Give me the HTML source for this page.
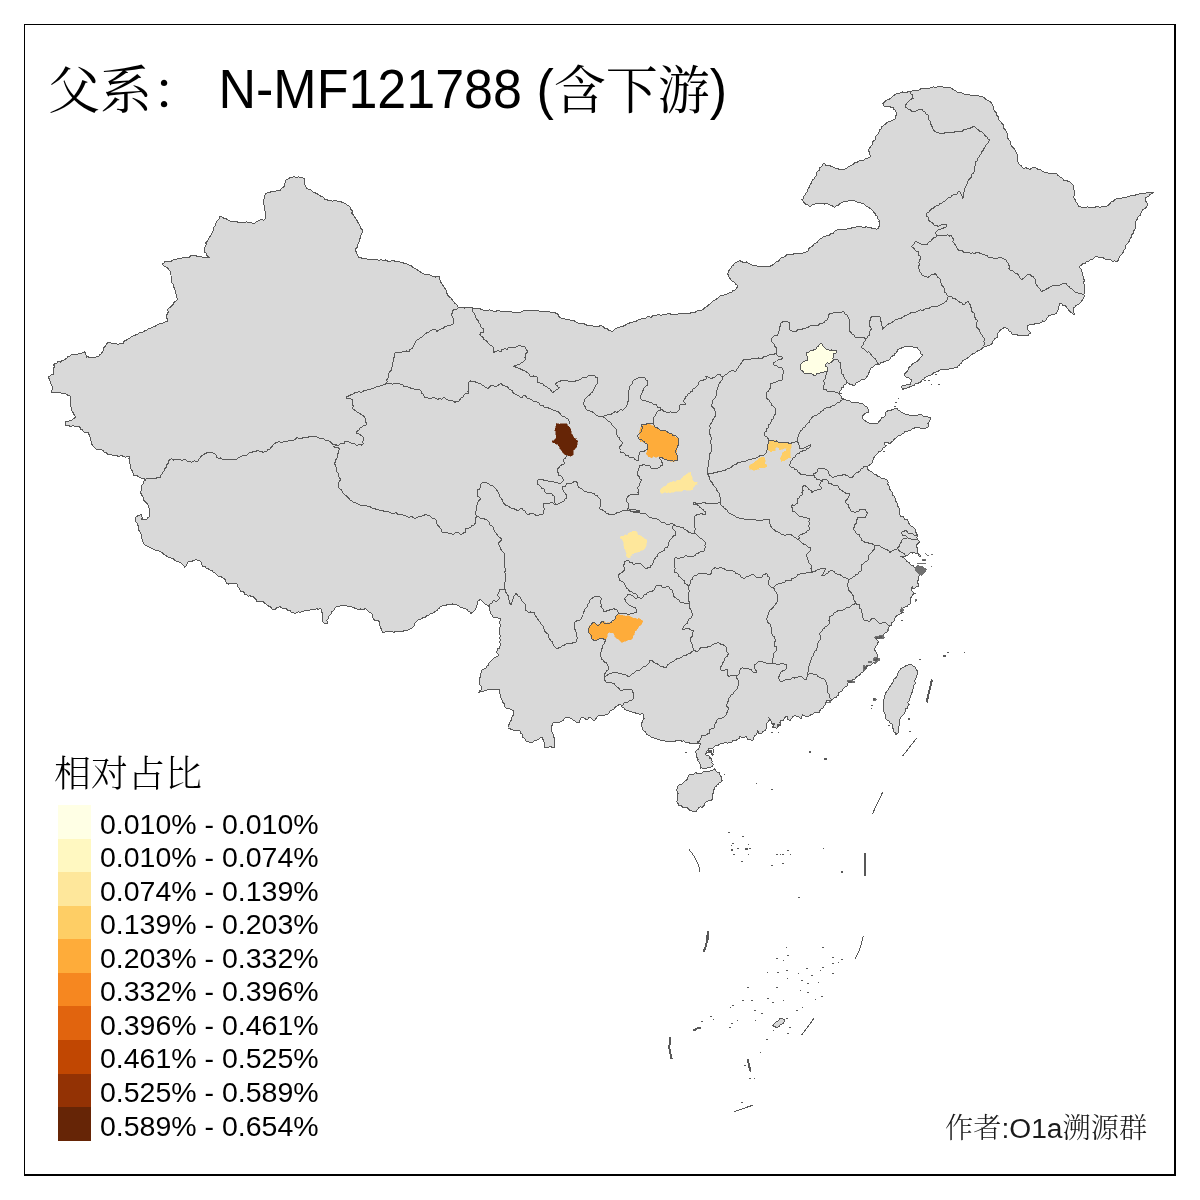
<!DOCTYPE html>
<html lang="zh"><head><meta charset="utf-8"><title>父系： N-MF121788 (含下游)</title>
<style>
html,body{margin:0;padding:0;background:#fff;}
body{width:1200px;height:1200px;position:relative;overflow:hidden;font-family:"Liberation Sans","Noto Serif CJK SC",sans-serif;color:#000;}
.frame{position:absolute;left:24px;top:24px;width:1152px;height:1152px;border-style:solid;border-color:#000;border-width:1px 2px 2px 1px;box-sizing:border-box;}
.title{position:absolute;left:48px;top:60px;font-size:52px;line-height:60px;white-space:pre;}
.title .lat{display:inline-block;transform:scaleY(1.05);transform-origin:0 47px;}
.title .cjk{font-weight:400;position:relative;top:1px;}
.cjk{font-family:"Liberation Serif","Noto Serif CJK SC",serif;font-weight:300;}
.legtitle{position:absolute;left:54px;top:751px;font-size:37px;line-height:48px;white-space:pre;}
.sw{position:absolute;left:58px;width:33px;height:33.7px;}
.lab{position:absolute;left:100px;font-size:28.5px;line-height:34px;white-space:pre;margin-top:1.5px;}
.credit{position:absolute;left:945px;top:1110px;font-size:28.2px;line-height:36px;white-space:pre;color:#1a1a1a;}
</style></head><body>
<svg width="1200" height="1200" viewBox="0 0 1200 1200" style="position:absolute;left:0;top:0">
<g fill="#d9d9d9" stroke="#585858" stroke-width="1" stroke-linejoin="round" shape-rendering="crispEdges">
<path d="M400,261.7 397.9,261.7 395.8,261.7 393.8,260.7 391.7,260.8 389.5,261.8 387.5,261 385.4,260 383.3,260.7 381.3,259.8 379.2,260.2 377.1,259.7 375,259.7 373,259 370.8,260 368.7,259.8 366.7,259 364.6,258.4 362.4,258.6 360.5,257.1 358.3,257.3 357.8,255.3 356.9,253.5 356.2,251.6 355,250 356.1,248.5 357.4,247 357.5,245 358.3,243.3 359.5,241.4 359.6,239.1 361,237.3 360.6,235.3 361.8,233.7 362.5,231.9 362.3,230 361,228.5 360.5,226.5 359.5,224.8 358.3,223.3 357.6,221.4 356.4,219.9 355.4,218.2 354.5,216.5 353.3,215 351.8,213.4 352.4,210.8 350.5,209.3 350,207.3 348.6,205.6 346.6,204.8 345,203.3 343,202.6 340.9,201.8 338.9,201.1 336.7,201 334.6,200.5 332.5,201.1 330.4,200.5 328.3,200.7 327,199.1 324.7,199.1 323.6,197.2 321.7,196.7 320.1,195.7 318.5,194.4 316.7,193.7 315,192.7 313.2,192.1 311.8,190.8 310.3,189.5 308.3,189.3 306.7,188.3 305.7,186.7 305.1,184.8 304,183.3 304.3,181.6 304.7,180 304,178.3 302.1,177.8 300.2,177.3 298.3,176.7 296.3,177.6 294.1,176.4 292.1,177.4 290,177.3 288.7,178.9 286.7,179.6 285,180.7 285,182.8 284.2,184.7 284,186.7 282.5,187.7 281.1,188.7 280.1,190.3 278.3,190.7 276.6,190.7 275,191.2 273.4,191.5 271.7,191.7 269.8,192.2 267.8,192.6 266,193.3 265,194.8 264.1,196.4 264.4,198.5 263.3,200 263.1,202.1 263.8,204.1 264.2,206.2 264,208.3 264.6,209.9 265.3,211.5 265.8,213.2 265.7,215 265.8,217.1 265,219 263.5,220.2 261.6,219.5 259.9,219.9 258.3,220.7 256.5,221.6 254.8,223 252.7,223.3 250.7,222.6 248.5,223 246.7,221.7 244.6,222.5 242.5,222.2 240.4,222.4 238.3,222.3 236.3,221.6 234.3,221 232.1,221.4 230,221 228,220 226.2,218.7 224,218.3 222.6,217.2 221.1,216.6 219.3,216.7 219.1,218.7 218,220.2 216.7,221.6 216,223.3 215.7,225.1 214.4,226.5 213.4,228.1 213.2,230 212.7,231.7 211.6,233.6 210.6,235.6 209.3,237.3 208.3,239.3 207.3,241.1 205.9,242.7 206.2,245 205,246.7 204.1,248.3 204.2,250 204.3,251.7 206,253.1 206.7,255.3 208.3,256.7 210,257.7 208.3,257.3 206.7,257.4 205,257.7 203.3,257.7 201.7,256.8 200,256.7 198.1,256.7 196.5,256 195,255 192.9,255.5 190.8,255.9 189,257.4 186.7,257.3 184.6,257.2 182.6,257.6 180.7,258.5 178.6,258.5 176.7,259.3 174.7,259.6 172.7,260.1 170.9,261.4 168.7,261.1 166.7,261.7 164.7,261.8 163.6,263.8 161.7,264 163.4,265.1 164.8,266.6 166.7,267.3 168.1,268.5 168.9,270.1 170.2,271.5 170.7,273.3 171,275.4 171.1,277.5 171.2,279.6 171.7,281.7 172.2,283.4 173.5,284.8 173,287 174.7,288.2 175,290 175.1,292.2 176.2,294.1 176.5,296.3 177.3,298.3 176.9,300.2 175.6,301.3 174,302.4 173.3,304 171.9,305.7 170.4,307.3 168.3,308.3 167.5,309.9 168.2,311.8 167.7,313.5 166.7,315 167,316.7 166.9,318.4 168.1,319.9 167.7,321.7 165.6,321.8 163.7,322.8 161.7,323.3 159.9,323.7 158.2,324.3 156.6,325.2 155.1,326.4 153.3,326.7 151.6,327.5 150.2,328.9 148.1,328.7 146.8,330.4 144.9,330.7 143.3,331.7 141.4,332.7 139.1,333 137.3,334.3 135.3,335.1 133.3,336 131.3,336.3 130.1,338.1 128.3,338.7 126.8,339.9 125,340.7 123.7,341.6 123.3,343.4 121.7,344 120.1,343.6 118.3,344.4 116.6,344 115,343.3 113.3,343.5 111.6,343.5 110,342.3 108.3,342.3 106.8,343.5 106,345.2 105,346.7 103.5,348 103.9,350.3 102.4,351.6 101.7,353.3 100.4,354.2 99.3,355.5 98.3,356.7 96.6,356.1 95.1,357.7 93.4,357.2 91.7,357.3 89.8,357.5 87.9,356.8 86,357.3 86,355.4 85.7,353.5 85,351.7 83.4,352.6 81.8,353.1 80,353.3 78.2,354 76.3,354 74.4,354 72.5,354.1 70.7,355 69.8,356.6 67.7,356.8 66.7,358.3 65.1,359.3 63.6,360.3 61.7,360.7 60.3,362.1 58.1,361.3 56.9,363.3 55,363.3 53.7,364.7 54.5,366.9 53.3,368.3 53.6,370.2 53.5,372.1 54,374 51.7,374.5 50,375.9 48.3,377.3 49.5,379.1 50,381.2 50.7,383.3 51.5,384.6 52,386 52.7,387.3 52.4,389.1 51.5,390.8 51.7,392.7 53.9,392.6 56.1,392.8 58.3,392.7 60,392.7 61.6,393.3 63.3,393.3 65,393.3 66.4,394.2 67.7,395.2 69.3,395.7 70.7,396.7 70.7,398.8 70.8,400.9 70.4,402.9 70.7,405 71,406.7 71,408.6 71.7,410.2 72.7,411.7 73.4,413.6 74.5,415.3 76,416.7 74.6,418.1 72.8,419 71.7,420.7 69.9,420.3 68.4,421.8 66.7,421.6 65,421.7 65.5,423.4 65,425 66.6,425.8 68.4,425.4 69.9,426.3 71.7,426 73.8,425.9 75.9,426.4 78,426.3 80,427.3 80.5,429.2 82.7,429.9 83.3,431.7 84.9,432.2 86.5,432.9 88.3,432.7 89.1,434.6 89.6,436.6 90.7,438.3 90.8,440.2 91.3,442.1 91.7,444 92.7,445.5 94,446.8 95,448.3 96.6,449.2 98.3,449 100,449 101.5,449.8 103.1,450.6 104,452.3 106.1,452.4 107.7,454.2 109.8,454.4 111.7,455 113.7,456 115.9,454.9 117.9,456.4 120,456 121.9,455.4 123.7,456.9 125.5,457.1 127.4,456.4 129.3,456.7 128.9,458.4 130.1,460 129.1,461.6 129.3,463.3 130.4,464.8 130.7,466.6 130.7,468.5 131.7,470 132.5,471.6 133.1,473.2 133.3,475 134.9,475.8 136.9,475.6 138.3,476.9 140,477.3 141.7,478.6 144.1,478.5 145.7,480 143.7,481.2 143.6,483.8 141.7,485 141.8,486.7 141.3,488.4 141.3,490.1 140.7,491.7 141,493.5 141.8,495.1 142.9,496.6 143.3,498.3 143.8,500.1 144.7,501.5 146.3,502.5 147.3,504 148.3,505.8 149,507.7 149,509.7 149.3,511.7 149.1,513.4 149.3,515.1 150,516.7 148.2,517.2 147.1,518.6 146,520 143.8,519.8 141.7,519.3 142.4,517.5 141.5,515.8 141.7,514 140.1,515 138.1,515.4 136.7,516.7 135.7,517.3 135,518.3 135.7,520 136,521.8 137,523.3 137.7,525 138.6,526.6 138.9,528.3 138.7,530.3 140,531.7 140.6,533.3 141.3,534.9 141.1,536.7 141.7,538.3 142.5,540 142.8,541.9 143.8,543.5 145,545 146.6,546 148.4,546.5 149.9,547.7 151.7,548.3 153.3,549 154.8,550 156.7,550 158.4,550.7 160,551.7 161.8,552.5 163.3,553.9 165,555 166.5,556.1 168.2,557 170,557.5 171.7,558.3 173.5,558.8 174.7,560.6 176.4,561.3 178.3,561.7 180.4,562.6 181.9,564.1 183.5,565.7 185,567.3 186.5,565.7 187.2,563.6 188.3,561.7 189.9,561 191.8,561.5 193.3,560.3 195,560 196.8,559.9 198.3,560.6 200,561 201.4,562.7 201.8,565 203.3,566.7 205.3,566.8 206.6,568.5 208.5,568.9 210,570 212.1,570.7 213.3,572.6 215.4,573.2 216.7,575 218.2,576.2 220.2,576.2 221.8,577.1 223.3,578.3 225.1,579.5 225.7,581.5 226.7,583.3 228.3,584.2 230.1,583.2 231.7,584 233.3,583.4 235,583.3 236.7,583.3 237.4,585 237.7,587 239.2,588.3 240,590 241.2,591.9 243.8,592 244.7,594.2 246.7,595 248.2,596.2 250.1,595.6 251.5,597 253.3,596.7 254.7,598.2 256.1,599.7 256.7,601.7 258.4,602 260,601.5 261.6,601.7 263.3,601.7 264.7,603.3 266.5,604.4 268.1,605.8 270,606.7 271.4,607.5 272,609.1 273.3,610 275.3,609.8 276.4,607.9 278.2,607.3 280,606.7 281.6,607.6 283.1,608.5 285.3,608.1 286.7,609.3 288.1,610.7 290.2,610.7 291.3,612.5 293.3,612.7 295,613.2 296.7,612.7 298.3,611.8 300,612.3 302,611.4 304,610.9 306.1,610.6 308.3,610.7 309.9,609.9 311.6,609.5 313.2,609.2 315,609.3 316.6,608.8 318.4,609.2 320,608.3 321.5,609.6 321.4,611.8 322.7,613.3 322.2,615.4 322.7,617.5 322.1,619.6 322.7,621.7 323.8,622.9 325.2,623.6 326.7,624 327.6,622.3 326.8,620.2 328.2,618.6 328.3,616.7 329.9,615.4 331.1,613.8 331.7,611.7 333.4,610.9 334.4,609.4 335.1,607.6 336.7,606.7 338.6,606.7 340.2,605.9 341.7,605 343.4,605.1 345.2,605.2 346.7,606 348.3,606.7 350.1,606.4 351.8,606.9 353.5,607.3 355,608.3 356.7,608.6 358.2,609.8 360.2,608.8 361.7,610 363.4,609.9 364.9,608.8 366.7,609.3 368,611.1 369.7,612.4 371.7,613.3 372.5,615.2 372.8,617.3 373.3,619.3 375.2,620.4 377.6,620.2 379.3,621.7 380,623.3 379.6,625.1 380.3,626.7 380.7,628.3 381.7,629.5 381.9,631 382.7,632.3 384.6,632.5 386.3,631.2 388.1,631.2 390,631.7 392,631.3 394,632.4 396,631.1 398,631.6 400,631.7 402.2,631.8 404.1,630.7 406.3,630.7 408.3,630 410,629 411.7,628 413.3,626.7 414.7,625.2 415,623 416.7,621.7 418,620.1 420.1,619.6 421.7,618.5 423.3,617.3 425.3,617.1 426.7,615.7 428.6,615.4 430,614 431.9,613.5 433.6,612.9 434.9,611.3 436.7,610.7 437.8,609.4 439.2,608.3 440,606.7 441.7,606 443.4,605.7 445.2,605.6 446.8,604.9 448.3,604 450.4,604.5 452.6,604 454.6,604.5 456.7,605 458.5,605.5 459.9,606.8 461.6,607.6 463.3,608.3 465.1,608.8 466.9,609.5 468.1,611.3 470,611.7 470.5,612.9 470,614 471.8,612.8 473.4,611.4 475,610 475.6,608.3 476.7,606.7 477,604.9 477,603 477.4,601.2 479.5,600.7 480,599 481.6,600.4 483,602 484.1,603.3 485.4,604.4 487,605 488.8,606.2 490,608 489.6,610.1 490.8,612 491,614 492.3,615.3 493,617 494.6,617.5 496.5,617.1 498,618 500,618.4 500.6,620.3 499.4,622.1 500,624 500.3,626 499.5,628 499.5,630 500,632 499.6,634 500.6,636 499.7,638 500.4,640 499.8,642 500.4,644 500,646 499.7,648.1 497.4,649 497,651 496.6,652.8 498.3,654.2 498,656 496.3,657 494.6,657.8 493,659 491.6,660.3 490.5,661.8 489,663 488.7,665.1 486.8,666.2 486,668 484.7,668.7 483.4,669.5 482,670 481.3,671.9 480.9,673.9 481,676 480.5,677.4 479.1,678.4 479,680 479.2,681.7 479.8,683.3 480,685 481.1,686.1 481.6,687.5 482,689 480.9,690.1 479.6,690.9 479,692.4 480.9,691.4 483,691.6 484.7,690.8 486.5,690.5 488.1,689.6 490,689.6 491.8,689.5 493.6,689.9 495.4,689.1 497.2,689.2 499,689 499.7,690.6 499.2,692.4 500,694 500.3,696.1 501.1,698.1 502,700 502.4,701.9 503.9,703.3 504.6,705.1 505,707 506.5,708.2 508.3,708.5 510,709 511.6,709.7 513,710.5 514,712 513.6,713.8 513.1,715.5 512,717 511.9,718.9 511.1,720.5 510,722 509.4,724 508.1,725.8 508,728 509.7,728.5 511.3,729.4 513,730 514.8,730.1 516.5,730.3 518.3,730.3 520,731 520,732.9 522.1,734 522,736 523.3,737.7 525.2,738.9 526,741 527.7,741.6 529.4,742.1 531,743 532.7,742.7 533.8,741.1 535.2,740.1 537,740 538.7,739.1 540.2,737.7 542,737 542.4,738.8 543.6,740.2 544,742 545,743.9 544.1,746.1 545,748 547,747.6 549,747 551.1,746.9 553,747.4 555,748 554.6,746 554.7,744 554.8,741.9 554,740 554.2,737.9 553,736.1 553,734 552.2,732 551.2,730.1 551,728 551.3,726.2 552.6,724.8 553,723 554.7,722.3 556.5,722.5 558.3,722.7 560,722 562.1,721.2 563.7,719.8 565,718 566.4,717.1 568,717 569.2,717.8 570.6,718.5 572,719 573.3,720.3 575,721 576.4,722.2 578,723 579.5,721.9 580.1,720.1 580.6,718.2 582,717 583.4,717.9 585,718.6 586,720 587.9,718.9 589,717 591,718 592.4,719.6 594,721 595.7,719.7 596.3,717.4 598,716 599.7,715.7 601.3,715.1 603,715 604.7,715 606.4,714.9 608,714 609.5,712.8 610.2,710.8 612,710 613.9,708.9 615.2,707.2 617,706 618.4,705.4 619,704 620.9,705.1 622,707 623.7,707.4 624.5,709.2 626,710 628,710.6 629.9,711.6 632,712 634,712.3 635.9,713.2 638,713 639.8,714.4 642.2,713.6 644,715 643.2,716.6 644.1,718.5 643,720 642.8,721.9 641,723.1 641,725 641.7,726.5 642.3,728.1 642.9,729.7 644,731 645.6,732 646.3,734 648,735 649.5,735.8 650.8,736.8 652.3,737.7 654,738 656.1,738.5 657.9,739.7 660,740 661.9,740.8 664.2,740.4 666,741.6 668,741.3 670,741 672,741.6 674.1,741.7 676,740.8 678.1,740.8 680,740 681.6,741.1 683.7,740.9 685.3,742.1 687,743 688.8,742.8 690.5,743.3 692.2,743.8 694,743.6 695.7,743.6 697.3,744 699,743.6 700.4,743.8 700.1,745.1 699,745.8 699,747.7 698.2,749.4 696.4,750.6 695.6,752.1 696.5,753.8 696,755.4 696.4,756.8 697.4,757.8 698.1,759.3 697.4,760.8 698.8,761.2 699.4,762.6 699.9,763.9 700.4,765.2 700.3,766.7 700.4,768.2 702,767.9 703.4,768.6 705,769 706.4,768.2 708.2,767.4 710.2,767.2 711.5,766.9 712.4,766 713.2,764.8 713,763.5 711.8,763 712.1,761.7 711.8,760.4 711.3,758.9 709.8,758.4 710.1,757.1 709.2,756.2 707.2,755.4 705.4,754.8 705.7,753.6 706.2,752.4 706.7,751.1 708,750.6 708.7,749.7 709.4,748.8 710.9,748.3 712.4,748.4 713.8,747 715.4,745.8 716,746 718,745.2 719.9,744.3 721.7,743.1 724,743 726,742.8 728,743.1 730,742.4 731.6,742.2 732.6,741 734,740.4 735.9,740.6 737.4,739.4 739.1,738.3 739.4,736.4 741.3,737 743,738 744.6,737.8 745.4,736.4 746.9,737.3 747.4,739 748.7,739.2 750,739.4 751.3,740 752.4,741 753.4,739.1 754,737 754.9,735.7 756.4,735 756.7,733.3 757.6,731.8 757.4,730 758.6,731.8 759,734 760.5,733.4 762,733 763.2,731.3 765,730.4 765.8,729.2 767,728.4 766.5,726.7 766.4,725 766.7,723.2 768,722 768.6,720.9 769.4,720 769.4,718.5 768.4,717.4 769.7,718.5 770.4,720 771.4,721.3 771.4,723 773,724.4 773.2,726.4 772,728 773.5,727.8 775,727.4 776.1,728 777.4,728 777.8,726.7 779,726 780.3,725.3 781,724 780.4,723 780,722 781.1,720.5 783,720 784.3,718.6 785.4,717 787.4,716.4 787.8,718.2 787.4,720 788.8,719.8 790,720.4 790.8,719.2 792,718.4 793,716.4 795,715.4 796.4,716.2 798,716.4 799.5,717.7 801.4,718.4 801.6,716.6 802.4,715 804.4,715.7 806,717 807.6,716.7 809,716 810.5,714.9 812.4,715 813.5,713.2 815.4,712.4 817.4,712.7 819.4,713 819.2,711.3 820.4,710 821.5,708.4 823.4,708 823.9,706.4 825,705 825.9,703.9 826,702.4 826.8,700.9 828.4,700.4 830.3,700.8 832,700 833,699 834.1,697.7 836,697.5 837,696 838.6,695.1 838.4,692.9 840,692 842,691 843,689 844.1,687.6 845.6,686.9 847,686 847.6,684.5 848,683 849.6,682.1 851,681 852.1,679.9 853.5,679.3 855,679 856.2,677.2 858,676 859.8,674.8 861,673 863.1,672.1 864,670 865.3,668.7 866,667 867.6,666.2 869.1,665.2 871,665 872.7,663.7 874,662 875.9,662 877.6,661.2 879,660 878,658.5 877,657 877.4,655.2 876.8,653.6 876,652 874.8,650.2 875,648 875.8,646.3 877,645 877.4,643.1 879,642 877.7,640.7 876.5,639.1 875,638 876.5,639.1 878.5,638 880,639 881,637.5 882,636 883.6,634.6 885,633 887,632 888,630 888.1,628.4 889,627.2 890,626 891.6,625.1 891.4,622.9 893,622 894,620.9 894,619.2 895,618 896.3,616.3 898,615 899.3,614.3 900.8,613.9 902,613 900.8,611.2 901,609 902.7,609 903.4,607.2 905,607 906.9,606.6 908,605 909.8,604.5 911,603 910.1,601.5 910.9,599.6 910,598 911.7,597.1 912.2,594.8 914,594 913.4,592.3 912,591 911.5,589 911,587 912.8,588.2 915,588 916,586.7 917.8,586.8 919,586 918.5,584.6 917.9,583.2 917,582 918.1,580.5 918.3,578.8 918,577 919,575.8 919.8,574.5 920,573 919.5,571.6 918.3,570.5 918,569 916.4,568.8 915.6,567.1 914,567 913,565.6 911.2,565.1 910,564 909,562.3 907.1,561.5 906,560 904.6,558.3 902.6,557.4 900.6,556.6 902.6,556.1 904.7,556.4 906.6,555.4 908.4,555 909.2,553.3 910.6,552.4 912.2,553.2 914.1,552.3 915.7,553.4 917.4,553.4 919.5,554.3 920.6,556.4 919.3,556.4 918.6,555.4 918.4,553.8 917.4,552.6 917.4,551.1 917.1,549.5 917.4,548 916.2,546.5 916,544.6 917.4,544.7 918,543.4 919,542.7 920,542 918.7,540.3 917,539 916.8,537.3 917,535.7 917,534 915.9,532.5 915.4,530.8 915,529 913.7,528 912.5,526.8 911,526 909.3,524.7 908.8,522.8 908,521 907.1,519.4 905,519.4 904,518 903,516.6 900.9,516.6 900,515 899.8,513.3 899.8,511.6 899,510 899,507.9 897.6,506.1 898,504 896.8,502.7 895.8,501.4 895.7,499.5 895,498 894.7,496.3 892.9,495.3 892.9,493.4 892,492 890.7,490.8 889.9,489.3 889.4,487.7 889,486 887.8,484.2 888.1,481.9 887,480 885.3,479.1 883.7,478.1 881.5,478.3 880,477 878.3,476.6 876.9,475.6 875.8,474.2 874,474 872.8,472.8 871.5,471.8 870,471 868.6,470.2 867.6,469 867.7,467.5 868,466 869.5,465 871,464 872.1,462.9 872.9,461.6 873,460 873.2,458.4 874.3,457.3 875,456 876.5,454.5 878,453 879,451.5 880.7,451.1 882,450 883,448 885,447 885,444.9 884,443 885.3,442 887,442 888.2,442.8 889,444 890.4,443.1 891.6,441.9 893,441 894.2,439.2 896,438 897.6,436.6 899,435 901,435.1 902.2,433.4 904,433 905,431.6 906.3,431 908,431 909.6,430.9 910.8,429.9 912,429 913.8,428.7 915.1,427.1 917,427 918.4,427.7 920,428 922.1,428.2 924,429 925.6,428.8 926.5,427.3 928,427 928.6,425.4 928,423.5 929,422 929.8,420.6 930.2,419.2 930.4,417.6 928.3,417 926.2,416.9 924,417 922.7,415.5 921,414.6 919,414.4 917.2,415.8 915,416 913,415.7 911.1,415 909,415 906.9,414.8 905,414 903.4,413 901.4,412.4 900,411 898.2,410.3 897,408.5 895,408 894,409.3 892,409 891,410.4 889.2,410.4 887.5,410.9 886,412 885.1,413.9 885,416 883.9,417.4 881.9,417.4 881,419 880.2,420.5 878.9,421.6 878,423 876.4,423.4 874.7,423.6 873,423.6 871.3,423.5 869.5,423.3 868,422.4 866.3,421.9 865.1,420.4 863.6,419.6 862.4,418 862.6,416 863.7,414.7 865,413.6 866.9,412.5 869,412 868.7,410.4 868,409 866.9,407.1 865,406 863.8,404.9 862.5,403.7 861,403 859,403.1 857,402.4 855,403 853.3,402.5 851.4,402.5 849.9,400.9 848,401 846.4,400.1 844.9,399.1 843,399 841.6,398 841.4,396.1 840,395 839.7,393 840,391 841,390 841.4,388 843.6,387 844,385 846,384 847,382 848.1,383.2 849.4,384 851,384.4 852.6,385 854,386 855.5,384.8 856,383 857.3,382.2 858.8,381.9 860,381 861.4,379.7 863.2,379.3 865,379 866.4,377.9 867.1,376.4 868,375 868.5,373.3 869.7,371.8 870,370 871,368 873,367 874.3,365.4 876,364.4 878,364 879.8,364 881.1,362.2 883,362.4 884.9,361.2 887,360.9 889,360 890.1,358.7 891,357.1 892.4,356 894.1,355.5 894.4,353.6 896,353 897,351.6 897.5,349.9 899,349 900.8,348.7 902.3,347.5 904,347 906,346.9 908,346.4 910,346 911.9,346.7 913.9,347.3 916,347 917.5,348.1 918.7,349.6 920,351 920.8,352.4 921,354 922.4,355 921.6,356.8 920,358 918.9,359.6 917.6,360.9 916,362 914.1,363 912.3,364.2 911,366 909.5,367 908.5,368.3 908,370 907,371.6 905.7,373 904,374 904.7,375.5 905.9,376.7 907,378 908.7,377.7 910,379 911.6,379 911.2,380.6 910.9,382.3 911,384 909.4,384.8 907.6,384.6 906,385 904.1,385.1 902.4,385.8 901,387 902,388.3 902,390 903.5,389 905.2,388.3 907,388 908.9,387.9 910.1,386.1 912,386 914,385.8 915.1,383.8 917,383.6 919,382.8 920.8,381.8 922,380 923.7,379.3 924.8,377.8 926.4,376.8 928,376 929.8,375.5 931.3,374.7 932.8,373.9 934,372.4 936.1,371.9 938.2,371.3 940,370 941.9,368.9 944,369.5 946,369 948.1,369.1 950.1,368.7 952,368 953.7,368.4 955.3,367.2 957,368 957.5,366.3 959.1,365.4 960,364 961.6,362.9 962.5,361.1 964,360 965.7,359.3 967.1,358.2 968.8,357.4 970,356 971.2,355 972.4,354 974,353.6 975.5,352.8 976.7,351.4 978.3,350.5 980,350 981.6,349.2 982.7,347.7 984.4,347 986.4,346.7 988,345.3 990,345 991.9,343.8 992.7,341.7 994,340 994.8,338.2 997.2,337.9 998,336 997.7,333.8 999,332 1000.2,330.2 1002,329 1003.8,327.8 1006,328 1007.9,329.1 1009,331 1011.1,331.9 1012,334 1013.9,334.9 1016,334.1 1017.9,335.2 1020,335 1022,335.6 1024,335.2 1026,335.8 1028,336 1028.9,333.9 1031,333 1029.5,331.5 1028,330 1027.4,328.4 1027,326.7 1027,325 1028.8,325.3 1030.3,324.2 1032,324 1034.1,324.4 1035.9,322.9 1038.1,323.7 1040,323 1041.5,322.3 1042.7,320.9 1044.8,321.3 1046,320 1046.4,318.5 1047.7,317.4 1048.3,316 1050,315.6 1051.6,314.7 1053.4,314.7 1055.1,314 1056.7,313.3 1057.4,311.3 1058.5,309.5 1058.3,307.2 1059.2,305.3 1060,303.3 1061.9,303.9 1063.1,305.8 1065.4,305.7 1066.7,307.3 1067.9,309.1 1069.3,310.7 1070.8,312.2 1072.7,313.3 1074,315 1074.4,313.3 1073,311.7 1073.9,309.9 1073.3,308.3 1074.9,307 1076.2,305.2 1078.3,304.5 1080,303.3 1081,301.7 1082.2,300.1 1083.2,298.4 1084,296.7 1084,294.7 1084.1,292.7 1084.3,290.7 1084.6,288.7 1084.3,286.7 1084.2,284.7 1083.4,282.8 1084.5,280.6 1083.7,278.7 1083.3,276.7 1082.5,275 1082.8,272.9 1081.6,271.4 1081.2,269.5 1079.9,268 1080,266 1081.6,265.1 1083,263.6 1085,263.5 1086.3,261.9 1088.3,261.7 1089.6,260 1092.1,259.8 1093.7,258.5 1095,256.7 1097,256.7 1099,257.3 1100.9,257.8 1103,257.7 1104.7,258.9 1106.7,259.3 1108.7,259.6 1110.8,259.7 1112.6,261.3 1114.8,260.8 1116.7,261.7 1118.2,260.3 1118.7,258.2 1119.7,256.5 1121.1,255 1122.6,253.6 1123.3,251.7 1123.8,250 1125.2,248.6 1125.6,246.8 1126,245 1127.4,243.6 1128.7,242 1129.6,240.3 1130.2,238.4 1131.5,236.8 1131.6,234.6 1133.3,233.3 1133.1,231.2 1134.9,229.7 1135.5,227.8 1135.1,225.7 1136,223.9 1135.8,221.8 1136.7,220 1137.6,218.3 1138.1,216.3 1140.1,215.3 1140.9,213.5 1141.7,211.7 1142.6,209.6 1144.9,208.7 1146.4,207.1 1147.3,205 1147.3,203.1 1146.1,201.7 1145.6,200 1145,198.3 1146.6,197.1 1148.7,196.6 1149.6,194.3 1151.6,193.7 1153.3,192.7 1151.1,192.3 1148.9,192.2 1146.7,192.7 1144.8,193.9 1142.5,193.5 1140.3,193.2 1138.4,194.7 1136.2,194.6 1134.3,195.7 1132,194.9 1130,196 1127.9,196.8 1125.8,197.4 1123.6,197.5 1121.5,198.3 1119.3,198.5 1117.1,198.7 1115,199.3 1113.7,201.1 1111.2,201.4 1110.1,203.5 1108.7,205 1106.7,206 1104.8,206.8 1102.8,206.1 1101,207.2 1099.1,207 1097.1,206.2 1095.2,207.1 1093.3,207.3 1091.3,207.1 1089.3,207.7 1087.3,206.8 1085.3,207.7 1083.3,207.1 1081.3,207.1 1079.3,206.7 1078,205.2 1077.4,203.2 1075.9,201.8 1075.4,199.8 1074,198.3 1073.9,196.6 1074.1,194.9 1074.4,193.3 1075,191.7 1074.1,190.1 1073.6,188.4 1073.6,186.4 1072.7,184.8 1071.7,183.3 1070.1,182.3 1068.6,181.3 1066.8,180.8 1065.1,180.3 1063.3,180 1062.5,178.2 1060.3,177.7 1059.1,176.2 1057.5,175.2 1056.7,173.3 1054.6,173.7 1052.5,173.1 1050.4,173.4 1048.3,173.3 1046.6,172 1044.2,172.3 1042.4,171.1 1040.7,169.6 1038.4,169.8 1036.7,168.3 1034.6,167.6 1032.5,167.7 1030.3,169.1 1028.2,168.9 1026.1,167.7 1024,168.3 1022.2,167.5 1021.3,165.7 1019.7,164.6 1018.3,163.3 1017.9,161.3 1017.8,159.3 1018,157.2 1017.5,155.2 1016.7,153.3 1015.8,151.5 1014.9,149.7 1013.6,148.2 1012.1,146.7 1010.9,145.1 1010,143.3 1010.1,141.1 1008.3,139.5 1007.7,137.5 1007.2,135.5 1007.3,133.3 1006.5,131.5 1005.4,130 1004,128.6 1003.1,126.9 1003.1,124.7 1001.7,123.3 1000.7,121.7 999.1,120.4 998.7,118.4 998.2,116.5 996.5,115.3 996.4,113.1 995,111.7 994,110.1 993.3,108.5 993.4,106.5 992.4,105 991.7,103.3 990.3,101.7 988.4,100.9 986.7,99.7 984.9,98.6 983.4,97.1 981.7,96 979.7,96.3 977.8,95.7 975.8,95.5 973.9,95.5 972,95 970,95 968.2,94.1 966.1,94.3 964.1,94.3 962.4,93 960.5,92.5 958.5,92.6 956.7,91.7 955.1,90.5 953.4,89.4 951.6,88.5 950,87.3 948,87.4 946,87 944,87.3 942,86.6 940,86.7 937.9,86.5 935.9,87.6 933.7,86.8 931.6,87.4 929.6,88.2 927.5,88.1 925.4,88.2 923.3,88.3 921.3,88.3 919.7,89.9 917.7,90.1 915.9,90.8 913.6,90.1 911.9,91.2 910,91.7 908.1,91.6 906.3,92.9 904.4,92.9 902.3,91.9 900.5,92.7 898.7,93.8 896.7,93.3 895.1,94.7 893.1,95.6 891.8,97.5 890.1,98.9 887.8,99.3 886,100.5 884.5,102.2 882.7,103.3 883.7,104.5 883.3,106 885.3,106.1 887.4,106.1 889.3,106.5 891.3,107.4 893.3,107.3 893.6,109.1 895.3,110.1 895.9,111.8 896.7,113.3 896.2,115.3 895.1,117.2 895,119.3 893.4,120 891.7,120.5 890.1,121.6 888.3,121.7 886.6,122.9 885.2,124.4 883.5,125.6 881.7,126.7 881.3,128.8 879.5,130.1 879,132 878,133.8 876.7,135.3 875.3,136.8 875.5,139.3 874,140.7 872.2,142.2 872.4,144.8 870.5,146.2 869.7,148.3 868.3,150 869.1,151.7 869.7,153.5 870.2,155.3 870,157.3 868.1,158.1 865.9,158.3 864.2,160 862.1,160.3 860,160.7 858.2,161.2 856.8,162.7 854.8,162.9 853.3,164.1 851.8,165.4 850,166 848.3,166.7 846.9,168 845.2,168.8 843.6,169.6 841.7,170 839.5,169.9 837.8,168.3 835.5,168.7 833.8,167.1 831.7,166.7 830,165.7 828,166.1 826.1,165.7 824.7,163.9 822.7,164 822.3,166 820.6,167.1 819.1,168.2 819.1,170.5 817.3,171.5 816.7,173.3 816.4,175.3 815,176.8 814.3,178.6 812.7,179.9 811.7,181.5 811.1,183.4 810,185 809.6,186.9 808.2,188.3 807.8,190.1 807,191.8 805.9,193.4 805,195 803.8,196.6 803.2,198.6 801.7,200 803.4,201.1 804.3,203.2 806,204.3 808.1,205 809.3,206.7 811.2,205.8 812.9,204.6 815,204 817,203.3 819.1,203.5 821.3,203.8 823.3,203.3 824.8,204.2 826.8,203.4 828.4,204.2 830,205 832,205.1 833.3,206.7 835,207.3 836.2,205.5 838.6,205.5 839.5,203.3 841.7,202.9 843.3,201.7 845.4,201.7 847.5,201.4 849.5,200.4 851.7,200.7 853.9,200.9 856,201.2 857.9,202.5 860,202.7 861.9,203.2 863.7,203.9 865.1,205.3 866.6,206.5 868.3,207.3 869.8,208.3 871.3,209.4 872.8,210.4 873.7,212.1 875,213.3 875.6,215.3 877.5,216.5 877.6,218.7 879.3,220 878.9,222.1 879.9,224 880,226 878.4,226.6 878.1,228.5 876.7,229.3 874.8,228.3 872.5,228.9 870.8,227.4 868.5,227.9 866.7,226.7 864.7,227.2 862.7,227.3 860.7,226.1 858.7,226.3 856.7,226.7 854.9,227.9 852.6,227.2 850.8,228.6 848.6,228.2 846.7,229.3 844.6,229.2 842.5,229.4 840.4,229.3 838.3,229.3 836.3,230.3 834.6,231.5 833.3,233.3 831,233.2 829.5,235.2 827.2,235 825.4,236.2 823.3,236.7 821.8,238.3 819.9,239.2 818.2,240.5 817.1,242.6 815,243.3 813.6,244.7 812.5,246.4 810.5,247.2 809,248.5 808.4,250.6 806.7,251.7 805,252.2 803.3,252.6 801.8,253.8 800,254 798,253.8 796.1,253.7 794.1,253.6 792.2,254.7 790.2,254.4 788.3,254 786.5,254.9 785.2,256.6 783.3,257.3 781.3,258 779.7,259.3 778.6,261.3 776.2,261.5 775,263.3 773.5,264.3 772,265.3 770.3,266.1 768.6,266.5 766.7,266.7 764.6,266.9 762.5,266.2 760.4,267 758.3,266.7 756.4,265.6 754.1,265.9 752.2,265.1 750.2,264.3 748.3,263.3 746.4,262 744,262.6 741.9,261.8 740,260.7 738,261.4 736.2,262.5 734.3,263.3 733.3,265.1 731.6,266.3 731,268.3 729.4,269.9 728.3,271.8 727.7,274 728.6,275.4 728.9,277.1 730,278.3 730.7,280 732,281 733.7,281.7 735,282.7 735.6,284.2 737,285.2 737.7,286.7 736.4,288.4 735,290 733.1,290.3 731.9,292.2 730,292.4 728.3,293.3 726.4,294.5 724.2,294.9 722.2,295.8 720,296 718.7,297.7 716.9,298.8 715,299.8 713.3,301 711.6,302.3 710,303.9 708.3,305.2 706.7,306.7 704.7,307.3 703.6,309.3 701.7,310 700.1,310.8 698.2,310.8 696.4,311.1 695,312.3 693.1,313.1 691.1,312.7 689.2,313.6 687.3,313.9 685.2,313.6 683.3,314 681.2,313.7 679.1,313.5 677.1,314.4 675,314.3 672.9,314.2 670.9,314.2 668.8,313.2 666.7,314 664.8,314.5 662.8,314.8 660.9,315.2 658.9,314.9 656.9,315 655,315.7 652.9,315.4 651.4,317.2 649.3,316.8 647.3,316.8 645.8,318.5 643.7,318 641.9,318.9 640,319.3 638.2,320.1 636.4,321.1 634.3,321.4 632.6,322.4 630.3,322.1 628.7,323.7 626.7,324 625,325.4 623,326.2 620.9,326.7 619,327.6 616.9,328.1 615,329 613.7,330.4 612.3,331.7 610.4,330.6 608.3,330 607,328.3 604.7,328.2 603.3,326.7 601.5,325.8 599.5,326 597.5,327 595.7,326.4 593.8,326.6 591.9,325.5 590,325.7 587.9,325.5 586,324.8 584.1,323.8 582,323.6 580,323.3 577.9,322.9 576,322.1 574.2,320.7 572.1,320.3 570,320 568,319.7 565.9,319.6 564.1,318.1 562,318.2 560,317.7 558.8,316.1 557.9,314.2 556,313.3 554.2,312.4 552.4,312.2 550.5,312.1 548.7,311.5 546.7,311.7 544.8,311.6 542.9,311.4 540.9,311.4 539,311 537.2,310.1 535.2,310.3 533.3,310 531.2,310.3 529.2,310.8 527.1,310.7 524.9,310.7 522.9,311.1 520.9,311.9 518.9,312.7 516.7,312.3 514.6,312.9 512.5,312.5 510.5,311.3 508.3,312 506.3,311.3 504.2,311.4 502,311.7 500,311 497.9,310.4 495.8,311.4 493.7,311.1 491.6,310.6 489.6,309.7 487.4,310.7 485.4,310.5 483.3,310 481.4,309.4 479.6,308.5 477.6,308.4 475.6,308.5 473.6,308.1 471.7,307.7 469.8,307.6 467.9,308.1 466,307.3 464,308.2 462.1,307 460.2,307.5 458.3,307.7 457.4,306.1 456.6,304.4 455,303.3 453.5,301.7 452.3,299.9 451,298.1 449.3,296.7 447.9,295.3 447.1,293.6 446.3,291.9 446.1,289.9 445,288.3 443.7,286.8 442.8,285.1 441.4,283.6 440.7,281.7 439.9,279.9 440,277.8 439.3,276 437.3,276 435.4,277.1 433.3,276.7 431.4,275.8 429.4,274.9 427.2,275 425.1,274.6 423.3,273.3 421.3,272.9 419.9,271.5 418.3,270.3 416.5,269.6 415,268.3 413.1,267.9 411.9,266.1 410.1,265.6 408.5,264.7 406.7,264 405,263.7 403.4,262.9 401.9,262 400,262.3Z"/>
<path d="M909,664.4 911.3,664.5 913,666 914.7,666.8 915.6,668.4 916.5,670 918,671 917.9,672.9 917.2,674.6 916,676 916.1,678.1 914.9,679.9 915,682 915,683.9 913.6,685.4 913.3,687.2 913,689 912.9,691.2 911.6,693 911,695 910.4,697 909.8,699 909,701 907.9,702.5 909,704.5 908,706 907.9,707.8 905.9,708.7 905.9,710.6 905,712 904,714 902.5,715.5 901,717 900.5,718.7 899,720.1 899,722 899.3,724 899.1,726 898.4,728 898.1,729.7 898.1,731.3 898,733 896.6,733.1 896,734.4 895.4,732.9 894,732 893.4,730 892.9,728.1 893,726 891.9,724.1 890,723 889.1,720.9 887,720 885.7,719 886,717.2 885,716 885.1,714.2 884.3,712.6 883.6,711 883,709.4 883.7,707.6 883,706 883.6,704 882.9,702 883.6,700 884.3,698.4 884.1,696.5 885,695 885.4,693 886.8,691.5 888,690 888.8,688.2 889.9,686.6 891,685 892,683.6 893,682.2 893.9,680.8 894,679 895.6,677.9 896.7,676.4 897.4,674.8 898,673 899.1,671.1 900.3,669.3 902,668 903.4,667.4 904.7,666.5 906,665.6 907.6,665.3Z"/>
<path d="M901.3,533.3 902.2,531.9 904.3,531.7 905,530 906.8,530.9 907.6,532.8 909.3,533.9 911.2,533.5 913,533.9 914.8,535.4 916.7,534.8 917.4,536.2 916.9,537.8 917.3,539.3 915.3,539.4 913.3,539.4 911.3,539.3 909.8,538.5 908,538.2 906.7,537 905.2,535.3 902.7,535.1Z"/>
<path d="M714.4,769 715.8,770.4 717,772 718.5,772.5 720,772.8 719.8,774.8 720.8,776.5 721.8,777.4 721.9,778.8 722.1,780.4 721.5,781.8 720.5,782.7 719.3,782.1 718.6,784 717,785.1 716.4,786.6 714.8,787 714.7,788.7 713.6,790 713.6,791.5 713.6,793 712.3,793.8 712.5,795.3 712.2,797 712.5,798.6 711.9,799.7 711,800.5 709.5,800.9 708,800.9 706.3,801.8 705,803.1 704.5,804.7 703.5,806.1 702.2,807.2 700.5,806.9 699.1,807.2 698.3,808.4 697.4,809.4 696.8,810.6 695.9,811.7 694.5,811.6 692.8,811.8 691.5,810.6 689.7,810.3 688.5,808.8 686.9,807.5 684.8,807.6 683,807.4 681.8,806.1 680.3,805.6 678.8,805.4 678.7,803.8 677.3,803.1 676.9,801.3 678,799.8 677.6,798.3 677.6,796.8 677.5,795.3 678.1,793.8 677.4,792.3 676.9,790.8 677,789.3 677.4,787.8 677.5,786.5 678.4,785.5 679.8,784.1 681.8,784 683.5,782.7 684.8,781 686.4,780.3 687.4,778.8 687.9,777.1 688.5,775.4 690.3,774.5 692.3,775 694,774 695.3,772.4 696.7,773.1 698.3,773.1 699.9,773.5 701.6,773.4 703.2,772.1 705,771.3 706.9,771.7 708.8,771.1 710.3,771 711.8,770.5 713.2,769.9Z"/>
<path d="M772.7,1026 773.8,1024.4 775,1022.8 776.7,1021.7 778.5,1020.8 779.6,1018.9 781.7,1018.3 783.3,1019.2 785,1020 784.1,1021.5 783.3,1023.1 781.7,1024 780,1025.1 778.8,1026.8 776.7,1027.3 774.7,1026.8Z"/>
</g>
<path d="M556,423.4 557.8,423.8 559.6,424.1 561.5,423.7 563.3,423.8 565.2,423.7 567,424 567.4,425.8 569.3,426.5 570,428 570.9,429.6 571,431.3 571,433 572.3,434.5 573.2,436.2 574,438 575.5,438.9 576.8,440 577.6,441.6 577.3,443.8 576.8,445.9 576,448 574.4,449.4 573,451 573.3,452.6 573.3,454.2 572.4,455.6 570.2,456.1 568,455.6 566,454.7 564,454 562.5,452.4 561.6,450.4 560,449 559.8,447.2 558.5,445.7 558,444 556,444.1 554.4,442.6 552.4,442.4 552.4,441 554,440.3 555,438.9 556.4,438 556.4,436 555.5,434 555.6,432 555.6,430.7 554.4,430 555.3,428.5 555.7,426.8 556.3,425.2Z" fill="#662506" stroke="#662506" stroke-width="0.5" shape-rendering="crispEdges"/>
<path d="M821.6,343.6 822.5,345.2 823.6,346.7 825,348 826.3,349.6 828.6,349.6 830,351 831.5,350 833.4,350.8 835,350 836.2,350.8 837,352 835.8,353.2 834,353.6 833,355 833.7,356.6 832.7,358.4 833.6,360 832.3,361.2 831,362.4 829.5,363.6 827.5,362.8 826,364 825.4,365.5 825,367 826.7,366.9 828,368 827,369.9 827,372 825,371.8 823,372.4 821.4,372.3 820,373 818.6,373.4 817,373.6 816,375 813.8,375.3 812,374 810,373.2 808,373.8 806,374 804.1,373 802.8,371.2 801,370 800.4,368.4 800.6,366.6 800,365 801.7,363.7 803,362 804.7,361.4 806.1,360.1 808,360 807.3,358 807,356 806.2,354.6 806,353 807.5,352.7 809,352.3 810,351 812.1,350.8 814,349.7 816,349 816.6,347.4 818.3,346.5 819,345 820.1,344Z" fill="#ffffe5" stroke="#ffffe5" stroke-width="0.5" shape-rendering="crispEdges"/>
<path d="M643,424.4 644.8,424.6 646.5,424.7 648.2,423.6 650,424 651.3,425.7 653.6,425.6 655,427 656.5,428.2 658.7,428.4 660,430 661.9,430.7 664.1,430.1 666,431 667.4,432 668.8,432.8 670.3,433.6 672,434 673.6,434.9 674.7,436.5 676.1,437.6 678,438 678.9,439.5 678.6,441.3 679,443 677.7,444.4 677.3,446.2 677,448 676.8,449.7 676.6,451.4 676,453 675.8,454.9 677.6,456.2 677.4,458 676.8,459.4 677,461 675.2,460.5 673.5,461.5 671.8,461.3 670,461 667.9,460.6 666,459.6 664,459 662.6,458.5 661.6,457.1 660,457 658.3,456.3 656.7,457.3 655,457 653.3,456.4 651.7,457.7 650,457 648.3,456.5 647.5,454.8 646,454 646.8,452.4 647.2,450.8 647,449 648.3,447.2 648,445 646.9,443.1 645,442 643.3,442.2 641.7,441.3 640,441.6 640.7,439.7 639.3,437.7 640,435.8 639.4,433.8 639.4,431.9 640,429.9 640,428 641.2,427 642.6,426.1Z" fill="#feac3a" stroke="#feac3a" stroke-width="0.5" shape-rendering="crispEdges"/>
<path d="M691,472.4 690.7,474.1 691.4,475.5 692,477 692.1,479.1 693,481 694.4,482.3 696.5,482 698,483 696.5,484.2 694.9,485.2 694,487 692.9,488.1 693,489.6 691.2,489.6 689.5,490.3 687.8,490 686,490 683.9,489.6 682.1,491.3 680,491 678,491.6 675.9,491 674,492 672,492.2 670,492.7 668,492.4 666.3,492.8 664.4,492 662.8,493.1 661,493 660.4,491.5 660,490 661.6,488.6 663,487 664.6,486.8 665.7,485.7 667,485 668.1,483.2 670,482.4 671.7,482.4 673.3,481.4 675,482 676.4,480.7 678.1,480.2 680,480 681.7,478.7 683,477 684.1,475.7 685.8,475.2 687,474 688.8,472.7Z" fill="#fee79b" stroke="#fee79b" stroke-width="0.5" shape-rendering="crispEdges"/>
<path d="M749,467 750.2,465.2 752,464 753.5,463.2 754.8,462.2 756,461 757.7,460.4 758.4,458.6 760,458 761.7,457.1 763.6,457 764.8,458.3 765,460 765.1,461.6 764.4,463 765.5,464.3 767,465 766.4,467 764.4,467.9 762.1,467.6 760,468 758.5,469.1 756.8,469.6 755,470 753.3,470 751.7,469.2 750,469.6 749.7,468.2Z" fill="#fece65" stroke="#fece65" stroke-width="0.5" shape-rendering="crispEdges"/>
<path d="M769.6,440 771.5,441.2 773.9,440.4 776,440.7 777.7,442.7 780,442.4 781.9,442.1 783.7,442.2 785.5,443.2 787.4,443 789.1,444 791,443.6 791.4,445.8 791,448 789.9,449.9 790.6,452 790,454 790.3,456 791,458 788.8,457.8 787,459 785.3,459.8 784,461 782.4,460.6 781,461.6 781.3,460.1 780.3,458.5 781,457 782.1,455.1 782,453 783.4,452.5 784.5,451.4 786,451 786,449.3 787,448 784.9,448 783,449 781,449.4 779,450 779.2,448.3 778,447 776,447 775.1,448.9 775,451 772.8,450.8 771,452 769.6,450.9 768,450 768.4,448.4 768.4,446.7 768.4,445 768.4,443.2 769.9,441.8Z" fill="#fece65" stroke="#fece65" stroke-width="0.5" shape-rendering="crispEdges"/>
<path d="M618,614.4 620,614.9 622,615.4 624,615.6 625.9,616.4 628,615.8 630,616.4 631.6,617.2 633.1,618.1 635,618 636.5,619 638.4,618.2 640,619 641.4,620.2 643,621 642.2,622.2 641.7,623.7 641,625 639,626 638,628 636.5,629.5 635,631 634.6,633 634,635 632.7,636 632.5,637.6 632,639 630.1,639.8 628,640 626.4,641 624.7,641.3 623,642 621.3,642 620.4,640.5 619,640 617.9,638.7 616.3,638.1 615,637 614.8,635.4 614.3,634 613,633 611,632.6 609,632.4 607.8,633.5 607,635 607.1,637.1 606,639 603.8,639.2 602,638 600,638 598.8,639.7 597,640 595.2,640.1 593.8,638.7 592,639 591.7,637.2 590.1,635.9 590,634 589.1,632.4 588.3,630.8 588,629 588.7,627.4 589.4,625.9 591,625 592.5,623.5 594,622 595.7,623.3 597,625 598.4,624.3 600,624 601.1,622.1 603,621 604.9,622.1 606,624 607.8,622.8 610,623 611.7,622.5 612.9,621.3 614,620 615.1,618.7 615.5,616.9 616.5,615.5Z" fill="#feac3a" stroke="#feac3a" stroke-width="0.5" shape-rendering="crispEdges"/>
<path d="M633,531 635.1,531 637,532 637.3,533.6 638,535 639.5,535.4 640.9,535.9 642,537 643.7,538 645.3,539 647,540 646.7,542 646.4,544 646,546 645.3,547.6 644.3,548.9 643,550 641.2,550.4 639.8,551.6 638,552 636.2,552.4 634.5,552.9 633,554 631.5,555 630.4,556.2 630,558 628.4,557.9 627,557 626.3,555.4 626.7,553.6 626,552 625.4,550 624.2,548.2 624,546 623.9,544.3 623.9,542.5 623,541 622.4,539.3 620.6,538.6 620,537 621.9,536.2 624,536 625,534.6 627,535.3 628,534 629.4,532.6 631.5,532.3Z" fill="#fee79b" stroke="#fee79b" stroke-width="0.5" shape-rendering="crispEdges"/>
<g fill="none" stroke="#585858" stroke-width="1" stroke-linejoin="round" stroke-linecap="round" shape-rendering="crispEdges">
<path d="M145.7,479.3 147.5,478.4 149.4,478.3 151.4,478.2 153.3,478.3 155.2,478.7 157,477.8 158.9,477.9 160.7,477.3 161,475.2 162.4,473.6 163.3,471.7 164.6,470.3 165,468.4 166.5,467 166.7,465 168.3,463.4 168.7,461.1 170,459.3 171.8,458.7 173.3,460.1 175.1,459.2 176.7,460 178.7,459 180.9,460 183,460 185,459.3 186.5,460.5 188.1,461.5 190.2,461.1 191.7,462.3 193.2,461.2 194.9,460.9 196.8,461.8 198.3,460.7 199.1,458.9 200.4,457.5 201.5,455.9 203.3,455 205,453.6 207,452.8 209.3,452.7 211.3,452.9 213.2,453 215,454 216.3,455.2 216.7,457.3 218.3,458.3 220.5,458 222.4,459.3 224.6,459.4 226.7,459.3 228.7,459.3 230.7,459.3 232.7,459.6 234.7,459.2 236.7,459 238.2,457.8 239.9,457.2 241.5,456.2 243.3,455.7 245,455 246.9,455.1 248.3,453.6 249.7,452.4 251.6,452.3 253.3,451.7 255.1,451.9 256.6,450.9 258.3,450.7 259.8,451.7 261.9,451.4 263.3,452.7 264.7,451.2 266.8,451.2 268,449.5 270,449.3 271,447.6 272.4,446.2 273.4,444.5 275,443.3 276.9,442.2 279,441.7 281.4,442.8 283.3,441.7 285.3,441.6 287.3,441.6 289.1,440.5 291.2,440.8 293.2,440.3 295,439.3 296,438.4 296.7,437.3 298.3,438 300,438.7 301.9,438.3 303.7,437.5 305.7,437.3 307.7,437.5 309.4,436.3 311.5,436.9 313.3,436 315,436.4 316.6,437 318.3,437.3 319.8,438.5 321.6,438.9 323.5,438.8 325,440 326.9,440.5 328.7,440.9 330.4,441.8 331.7,443.3 333.1,444.6 335,444.6 336.7,445"/>
<path d="M336.7,445 338.5,445.5 339.9,443.9 341.5,443.5 343.3,444 344.8,442.9 345,441 346.8,441.1 348.5,441.6 350,442.7 352,443.5 354.2,443.6 356.1,445 358.3,445 359.9,444.2 361.8,445.1 363.3,444 362.9,442.2 363.2,440.3 363.5,438.5 362.7,436.7 361.3,435.6 360,434.4 358.4,433.9 356.7,433.3 356.9,431.3 359,430.2 359.3,428.3 361,427.6 362.5,426.4 364.1,425.4 366,425 366.3,423.2 365.6,421.6 365.9,419.9 365,418.3 364.2,416.9 363.3,415.6 361.7,415 360.1,413.8 358.5,412.5 356.7,411.7 355.5,410.4 353.8,409.7 352.7,408.3 353.4,406.2 352.4,404.1 353.1,402.1 352.7,400 350.9,398.7 348.8,398.6 346.7,398.3 346.1,397.1 346.7,396 348.5,396 350.1,395.3 351.5,394 353.3,394 355,392.7 357.1,392.9 358.8,391.6 361.2,392.4 362.9,391.2 364.8,390.6 366.7,390 368.7,389.2 370.9,389 373.1,388.8 374.9,387.2 377,386.7 379.2,386.4 381.1,385.3 383.3,385 385.1,384.3 386.7,383.3"/>
<path d="M386.7,383.3 387.2,381.6 386.7,380 388,378.3 388.3,376.1 388.8,374 389.3,371.9 391.1,370.4 391.7,368.3 392.1,366.3 392.9,364.5 392.7,362.4 393.8,360.6 393.4,358.5 394.6,356.7 394.9,354.7 395,352.7 396.7,352.4 398.3,352.5 400,352.3"/>
<path d="M336.7,445 335.1,446 333.3,446.7 335.3,447.2 337.3,447.6 339.3,448.3 338.9,450.4 338.4,452.5 337.6,454.5 337.3,456.7 336.9,458.5 335.6,459.9 335.8,462 334.3,463.3 335.2,464.9 335.7,466.6 336.6,468.1 336.7,470 337,471.8 338.3,473.2 338.2,475.2 338.7,476.9 340,478.3 340,480.5 338.5,482.4 338.2,484.5 338.3,486.7 339.3,488.5 341.4,489.5 342.1,491.6 343.3,493.3 344.5,494.8 346.2,495.7 347.6,497 348.9,498.4 350,500 351.8,500.5 353.1,502.1 355.1,502.3 356.7,503.2 358.2,504.4 360,505 361.9,506 364.1,505.4 366.1,505.3 367.9,507.1 370,506.7 371.8,508 373.8,508.7 376,509.1 378.2,509.5 380,510.7 382.1,510.6 384.1,511.2 386,511.8 388.1,511.6 390,512.7 392,513.3 394,513.6 396.1,512.7 397.9,514.3 400,514"/>
<path d="M458,308 456.6,309.3 454.6,309.4 453,310.4 452.6,311.9 452.1,313.3 451,314.4 451.9,315.9 452.7,317.5 453.6,319 453.4,320.7 453.3,322.3 453,324 451.1,325 449.1,325.7 447,326 445.1,326.6 443.6,328 441.6,328.5 440,329.6 438.2,330.4 437,332 436.1,330.1 434.4,329 432.6,329 431.6,330.7 430,331 428.7,332.3 426.8,332.7 425.4,333.9 424,335 422.6,336.7 420.5,337.4 419,339 417.2,339.9 416,341.3 415,343 414.4,344.8 413.3,346.2 412.7,347.9 411,349 409.8,349.7 410,351 408.4,351.6 406.6,351 405,351.6 403.3,351.8 401.6,352 400,352.4"/>
<path d="M472,308 472.6,309.8 472.9,311.7 474.3,313.2 475,315 475.7,317 476.4,318.9 478,320.4 478.7,322.4 480,324 480.7,325.9 481.5,327.8 483.6,328.9 484,331 483,332.5 480.8,332.7 480,334.4 481,336.1 482.8,336.9 483.5,338.9 485,340 486.6,340.9 487.7,342.3 488.8,343.7 490,345 491.5,345.8 492.8,346.8 493.6,348.4 493.6,349.9 493.4,351.5 493.6,353 494.9,351.8 496.7,351.2 498,350 499.4,351.6 501.3,351.4 502.1,349.2 504,349 506.1,348.9 508,349.6 507.9,348.2 509,347.4 510.8,347.6 512.5,347.1 514.2,347 516,347 517.9,345.9 520,345.6 521.5,346.5 523.2,346.9 525,347 525.9,348.3 526.3,350 527.6,351 527,352.7 525.6,354 525.8,355.7 524.9,357.3 525.6,359 524.4,360.7 522.9,362.1 521,363 519.7,364.5 517.5,364.5 516,365.6 514.3,365.8 513,367 514.8,366.6 516.3,367.6 518,368 519.7,368.7 521.5,369.4 523,370.4 524.9,370.9 526.4,372 528,373 529.5,374.2 530,376 531.4,376.8 533,375.8 534.4,376.4 535.7,376.8 537,377 537,378.8 537.1,380.6 537.6,382.4 539.4,382.9 541.2,383.5 543,384 544.2,385.9 546.7,386.3 548,388 549.6,388.7 550.7,390 551.5,391.6 553,392.4 554.6,391.2 556.2,390 558,389 558.6,387.7 560,387.4 558.2,387.1 557.2,385.6 555.6,385 555.9,383.5 557,382.4 558.8,381.9 560.5,381 562.3,380.7 564.1,380 566,380 567.8,381.1 570,381.2 572,381.5 574,382 575.6,380.9 577.7,381 579.3,379.8 581,379 582.5,377.7 584.3,377 586.5,377.4 588,376 589.7,375.6 591.5,375.7 593.2,375.1 595,375.6 595.6,377.1 597.3,377.6 598,379 597.6,380.6 597,382.3 597,384 595.9,385.5 595,387 594.2,388.9 593.3,390.8 592,392.4 590.5,393.3 589.8,395 588.1,395.7 587,397 585.5,398.3 584.7,400 584.2,401.8 583.6,403.6 583.9,405.1 585.1,406.4 585,408 586.4,409.4 588,410.6 590,411 591.8,411.8 593.7,412.4 595,414 596.3,415 597.7,415.9 599,417"/>
<path d="M386.6,383.4 388.5,383.3 390.4,383.6 392.3,384.2 394.3,383.2 396.2,383.4 398.1,383.2 400,384 401.6,384.3 403.1,384.9 404,386.4 406.1,386.2 408,387.1 410,387.4 411.7,388.9 414,389 415.9,389.6 418,389.5 420,390 421.1,391.4 421.7,393.2 423.2,394.3 424,396 425,397.6 426.8,397 428.5,398.3 430.2,398.1 432,398 434.1,397.9 436.2,398.3 438,399.4 439.5,398.3 441.5,399.2 443,398 444.9,397.9 446.4,399.2 448,400.2 450,400 452,400.1 453.4,401.4 455,402.4 456.6,401.4 458.7,401.1 460,399.6 461.2,397.9 463,397 463.7,395.3 465,394 466.9,393.1 469,393 468,391.5 468.6,389.6 468,388 468.8,386.1 468.6,384 469,382 470.5,380.9 472.4,381.7 474,381 475.8,382.2 477.9,383 480,383.6 481.5,384.2 482.4,385.7 484,386 485.2,387 486.6,387.7 488,388.4 489.4,387.3 490.4,385.8 492,385 493.5,385.6 495,386.4 496.7,386.1 498.1,385.3 499.4,384.1 501,383.6 502.1,384.8 503.4,385.7 505,386 506.8,386.4 508,387.6 509,389 510.6,389.8 512.2,390.7 513,392.4 514.4,393.8 516.2,394.7 518,395.6 519.3,396.3 520.3,397.6 522,397.6 522.8,396.2 524,395 525.8,396.2 527,398 528.9,398.1 530.4,399.1 532,400 533.5,401.2 535.3,401.5 537,402 539,403 540,405 541.5,405.7 543.3,405.9 544.4,407.4 546,408 548.2,407.9 550.1,408.6 552,409.6 553.9,410.3 555.9,411.1 558,411 558.8,412.4 560.3,413.5 561,415 562.5,416.2 564.5,416.7 566,418 567.8,418.8 568.7,420.4 569.6,422 570,424"/>
<path d="M567,455.6 565.8,457.1 566,459 564.3,458.8 563,460 563.5,461.8 565,463 563.7,464.6 561.6,464.9 560,466 559.1,467.4 558,468.6 557,470 557.9,471.6 558.1,473.2 558,475 559.4,475.6 560.9,475.9 562,477 562.9,478.5 563.6,480 562.5,481.8 560.9,482.9 559,483.6 557.4,482.7 555.6,482.7 554,482 552,481.6 550.1,481 548,481 545.9,480.5 543.8,480.3 542,479 539.9,479.1 538,480 537.4,481.5 537,483 538.3,484.7 540,486 541.2,487.2 542.2,488.6 544,489 544.9,490.2 545,491.9 546,493 548,493.1 550,493.8 552,494 553.3,495.7 555,497 554.8,499.1 554,501 555.1,502.8 555,505"/>
<path d="M555,505 556.9,504.9 558.4,503.9 560,503 562,502.1 563.9,501 565,498.9 567,498 566.4,496.4 566.1,494.7 565.3,493.2 564,492 563.4,490.3 562.2,488.9 562,487 563.5,486.1 565.6,486.1 566.5,484 568.3,483.5 570,483 572.2,483 574,481.6 576,481 577.1,482.5 577.6,484.2 578,486 579.1,487.8 581.2,488.3 582.6,489.7 584,491 586,491.7 587.9,492.5 590,492.5 592,493 593.9,493.4 594.9,495.1 596.9,495.4 598,497 599.6,498.3 600.4,500.1 601,502 600.4,503.7 600.8,505.5 599.9,507.2 600,509 601.8,509.6 603.3,510.5 604.9,511.4 606,513 607.9,513.8 609.9,514.6 612.1,514.1 614,515 615.3,513.9 616.7,512.8 618.6,513 620,512 621.9,511 623.8,510.1 626,510 627.8,510.1 629.5,510 631.2,509.6 633,509.6 634.9,509.4 636.5,510.5 638.2,510.7 640,511"/>
<path d="M555,505 553.5,503.5 552,502 550.4,502.7 548.8,503.4 547,503 544.9,503.3 543,504 543.8,505.9 544,507.9 544,510 543.7,512 543,514 541.2,514.5 539.4,514.6 538,516 536,515.4 534.2,513.9 532,514 529.8,513.7 528,515 526.7,513.9 525.5,512.7 525,511 523.1,509.9 522,508 520.3,508.6 519.2,509.9 518,511 516.2,509.7 514.2,508.9 512,509 510.8,507.8 509.4,507 508,506 505.9,505.2 504.2,503.9 503,502 502.4,500.1 501.2,498.5 500,497 499.7,495.2 498.8,493.6 498,492 496.9,490.2 495.5,488.5 494,487 492.7,485.5 490.3,485.5 489,484 487.7,483.3 486.2,482.9 485,482 483.4,482.2 482.1,482.8 481,484 480.9,486.1 480,488 478.9,489.6 477,490 477.4,491.7 477.3,493.3 477,495 478,496.6 479.8,497.6 481,499 479.2,500.2 478,502 477.6,504.1 476.6,506 476,508 476.4,510 475.5,512 475.6,514 476.3,515.5 477,517"/>
<path d="M477,517 475.4,518.1 475,520 475.2,521.8 475.1,523.5 474,525 471.9,525.3 470.9,527.4 469,528 467,528.6 465,528 465.1,529.7 465.9,531.3 466,533 463.9,532.7 462.1,534.1 460,534 459,532.7 457.2,532.9 456,532 454.4,533.4 453,535 451.6,533.7 449.8,533.4 448,533 446.3,532.3 444.7,532.7 443,533 441.4,531.7 441.5,529.4 440,528 439.1,526.6 437.8,525.5 437,524 436,522.1 436,520 434.9,518.8 433.4,518.5 432,518 430.7,516.4 428.9,515.6 427,515 425.2,514.6 423.6,515.6 422,516 419.9,516.4 417.9,517.2 416,518 413.9,518 412.1,516.6 410,517 408,517 406.1,515.9 404,516 402.3,514.5 400,514.4"/>
<path d="M477,517 478.8,516.9 480.2,518.4 482,518 483.8,518.2 484.9,519.8 486.8,519.7 488,521 489.6,522.4 490,524.8 492,526 493.2,527.3 493.3,529.1 494.3,530.5 495,532 496.4,533.6 497.7,535.3 499,537 500.8,538.2 502,540"/>
<path d="M661,409 662.6,410 664.1,411.4 666,412 668.2,412.7 670.4,411.7 672.6,412.4 674.8,412.3 677,412 678.7,410.7 680,409 679.7,407.2 679.9,405.5 681,404 683,404.3 685,405 685.1,403.3 683.9,401.7 684,400 685,398.5 685.8,396.8 687.5,395.8 688,394 689.9,393.3 690.7,391.5 692.7,391 693.1,388.7 695,388 696.7,386.5 698,384.8 698.3,382.4 700,381 702.1,380.6 704,379.8 706,379 706.2,377.3 705,376 706.8,376.2 708.3,377.4 710,378 711.8,378.3 713.4,377.6 715,377 716.5,375.7 718,374.4 720,374 721,376 723,377"/>
<path d="M723,377 724,376 725,375 726.5,374.2 727.8,373.2 729,372 730.7,371.2 732.4,370.7 734.2,371.1 736,371 736.7,369.1 738.4,367.9 739,366 740.5,364.4 741.6,362.6 742.8,360.8 744,359 745.6,359.6 747.4,359.1 749,360 751,359.2 752.8,358.2 755,358 756.5,359 758.5,358 760,359 762.2,358.6 763.7,356.7 766.1,356.7 768,355.6 769.9,354.7 772,354.2 774.2,354.2 776,353"/>
<path d="M723,377 722.2,378.4 722,380 720.6,381.1 720,382.6 719,384 718.3,386 717.8,388.1 717,390 715.9,391.9 716.7,394.1 716,396 715.1,398 713.6,399.6 712,401 712.2,402.7 712,404.4 711.6,406 713,407.5 714.4,409 715,411 715.5,412.6 715.7,414.3 715.6,416 714.3,417.3 713.6,419 712,420 712,421.9 711.1,423.5 710,425 709.9,426.8 710.2,428.5 709.6,430.2 710,432 709.8,434.1 710.6,436 711.4,437.9 711,440 710.8,442 710.9,444 711.6,446 711.6,448 711,450 711.1,452.1 709.7,453.9 710,456 709.2,457.9 709,459.9 708.5,461.9 709,464 708.7,466.1 707.6,468 707,470 707,471.5 707.2,473 708,474.4"/>
<path d="M708,474.4 709.6,473.3 711.6,473.7 713.3,473.1 715,472.4 716.9,472.7 718.4,471.3 720.2,471 722,471 724.1,470.6 726.1,469.7 727.9,468.5 730,468 731.5,467.2 732.6,465.9 734,465 736.2,464.5 737.8,462.7 740,462.4 741.9,461.5 744.1,462.1 746,461 747.9,460.1 749.9,459.3 752,459 754.2,458.8 756.1,457.9 758,457 759.8,455.8 762,455.7 764,455 765.7,453.7 767,452 766.8,450.2 767.9,448.7 768,447 767.7,445.2 768.2,443.5 768.1,441.7 769,440"/>
<path d="M769,440 767.9,438.4 766.7,436.9 765,436 764.5,434 765,432 766.6,431.1 766.6,429 768,428 769,426.6 768.9,424.7 770.6,423.7 771,422 771.3,420.3 772.8,419.1 773.6,417.7 774,416 775.1,414.5 775.2,412.6 776,411 775.5,409 774.7,407.3 773,406 771.5,405 771,403.3 770,402 769.2,400.1 767.6,399.1 766,398 766.2,396 766.4,393.9 767,392 768.8,391.2 769.2,388.9 771,388 770.9,385.9 770,384 772.2,383.9 773.8,382.1 776,382 777.9,381.1 779.9,380.4 782,380 782.4,378 782.5,376 783,374 783.3,371.9 783,369.9 782,368 779.9,367.8 778,367 776.7,365.5 774.3,365.6 773,364 774.3,362.2 776.5,361.5 778,360 779.8,359.8 781.5,359.1 783,358 781.6,356.6 779.9,356.1 778,356 776.7,354.7 776,353"/>
<path d="M776,353 776.4,351.3 776.3,349.6 777,348 775.1,346.8 774.5,344.5 773,343 771.6,341.8 771,340 771.7,338.4 772.9,337.2 774,336 775.4,335.5 777,335.4 778,334 778.3,332 779.4,330.1 779,328 780.3,326.2 780,324 781.3,322.9 782.7,321.9 784.3,321.3 786,321 787.9,322 790,322 789.8,324 789.3,326 789.2,328 790,330 791.9,330.9 794,331.4 796,332 796.9,330.4 798.2,329.4 800,329 802.1,329.1 804,328.6 806,328 807.5,327.7 808.7,326.8 810,326 812,325.9 814,325.6 816,325 818.1,325.3 819.9,323.7 822,324 823.7,322.7 825.1,321.1 827,320 827.9,318.4 828.3,316.8 828,315 829.5,314 831.1,313 833,313 834.6,312.3 836.3,312 838,312 840,312.4 842,311.9 844,312 845,313.9 846.9,315.1 848,317 848.6,318.7 849.8,320.1 850,322 849.4,324 849.3,326 849,328 849.2,329.8 849.9,331.3 851.2,332.5 852,334 854,335 855,337 856.7,337.7 858.3,337.7 860,337 861.8,337.2 863.5,337.5 865.2,338.4 867,338"/>
<path d="M867,338 867.6,336.1 869.6,335 870,333 869.7,331.2 871,329.7 871,328 869.7,326.2 869.3,324.1 869,322 870.3,320.2 870,318 871.5,316.9 873.4,316.9 875,316 876.7,316.3 878.3,316.6 880,317"/>
<path d="M867,338 865.7,339.7 864.5,341.5 863,343 863.2,344.8 861.8,346.2 862,348 863.8,348.4 864.7,350 866,351 867,352.2 869,351.7 870,353 871.3,354.7 872.5,356.4 874,358 875.6,358.9 876.2,360.6 877,362 878.3,363.7 880,365"/>
<path d="M833.6,360 835.8,359.6 838,360 838.4,361.8 840.5,362.3 841,364 840.2,365.9 840,368 841.3,369 841.7,370.5 842,372 841.9,374 843.8,375.2 844,377 844.8,378.8 846.1,380.3 847,382"/>
<path d="M827,372 826.4,373.7 825.9,375.4 825,377 825.2,378.8 823.8,380.2 824,382 824.4,384.1 823.3,386 823,388 824,389.5 826.1,389.5 827,391 828.6,391.4 830.3,391.8 832,392 834.1,391.6 836,392.5 838,393 839.9,393.8 842,394"/>
<path d="M844,398 842.9,399.6 841.1,400.5 840,402 838.3,402.5 836.6,403.1 835.4,404.8 833.8,405.6 832,406 830.2,407.3 828.2,407.9 825.9,407.9 824,409 822.9,410.7 821,411.5 819.8,413.1 818,414 816.8,415 815.4,415.4 814,416 812.3,417 811.2,418.5 810,420 809.3,422.2 807.6,423.6 806,425 805.1,427 802.9,428 802,430 800.6,431 799.6,432.4 799,434 798.2,435.9 797.9,437.9 798,440 797.6,441.8 798.2,443.4 799,445"/>
<path d="M769,440 770.9,440.1 772.8,440.3 774.4,441.4 776.5,440.9 778.2,442.1 780,442.4 781.9,442.4 783.7,442.1 785.5,443 787.4,442.5 789.2,443.3 791,443.6 792.2,442.4 794,442.4 795.9,441.5 798,442 798.6,443.5 799,445"/>
<path d="M708,474.4 708.9,476.2 709.9,477.9 710,480 710.8,481.6 712.6,482.6 713,484.5 714,486 715.2,487.4 716.6,488.6 717,490.5 718,492 719.4,493.4 719.4,495.3 720,497 720.7,498.8 720.7,500.6 720,502.4"/>
<path d="M720,502.4 720.6,504.1 721.6,505.5 723,506.6 724,508 725.5,509 727.1,509.9 727.6,511.9 729,513 730.5,513.7 731.8,514.9 733.6,515.1 735,516 736.4,517.4 738.5,517.7 740,519"/>
<path d="M661,409 660,410.4 658.2,410.8 657,412 656.2,413.8 655.4,415.6 654,417 653.9,418.8 653.8,420.5 653.7,422.3 653.6,424 654.4,425.5 655,427 656.9,427.7 658.5,428.7 660,430 661.9,430.6 664,430.4 666,431 667.4,432 668.8,432.9 670.2,433.8 672,434 673.1,435.6 675.2,435.6 676.7,436.7 678,438 678,439.7 678.5,441.4 679,443 678.8,444.8 677.4,446.2 677,448 676.1,449.5 675.8,451.2 676,453 676.9,454.5 677.2,456.2 677.4,458 678,459.6 677,461 675.2,460.2 673.5,461.4 671.8,460.6 670,461 668,460.3 666,459.5 664,459 662.7,458.3 661.6,457.2 660,457"/>
<path d="M910,91.7 910.6,93.5 912.2,94.7 912.3,96.7 913.3,98.3 911.3,99.1 909.7,100.4 908.3,102 906.7,103.3 905.7,105.2 905,107.3 906.8,108 908.3,109.1 910.3,109.4 911.5,111.1 913.3,111.7 915.4,111.3 917.4,110.2 919.5,109.7 921.7,109.3 923.1,111 925.1,112.1 926.2,114.1 928.3,115 928,117.2 928.6,119.3 930.2,121.1 930,123.3 931.4,124.7 932,126.5 932.7,128.2 933.3,130 934.8,131.1 936.4,132.1 938.3,132.6 940,133.3 942,133.4 944,133.2 946,132.2 948,132.9 950,132.7 952,132 954,132.2 955.9,131.3 958,132.1 960,131.7 962.2,131.6 963.8,129.7 966,129.8 967.8,128.3 970,128.3 971.6,127.5 973.2,126.7 975,126.7 976.3,128.5 978.1,129.6 979.6,131.2 981.9,131.6 983.3,133.3 984.4,134.9 985.8,136.2 987.3,137.3 988.2,139.1 990,140 988.6,141.6 987.8,143.6 986,144.8 985,146.7 984,148.4 983.4,150.3 981.8,151.6 981.6,153.7 980,155 979.1,156.7 977.9,158.3 977.7,160.4 975.8,161.5 975,163.3 975.3,165.4 974.1,167.3 974.2,169.3 974.4,171.4 973.3,173.3 971.4,174.5 971.4,177.1 970,178.7 968.3,180 967.6,181.7 967.4,183.5 966.3,185 965.7,186.7 965,188.3 964.4,190.3 964,192.3 963.9,194.4 963.6,196.4 962.7,198.3 962.3,196.5 961.2,195 960.7,193.3 960,191.7 958,191.9 957,194.1 955.1,194.5 953.3,195 951.6,196 950.4,197.8 948.1,198 946.7,199.6 945.1,200.8 943.3,201.7 941.9,203.2 939.6,203.3 938.7,205.6 936.4,205.7 934.8,206.9 933.3,208.3 931.4,208.9 930.2,210.3 929.1,211.9 927.4,212.8 926,214 926.1,216 928.2,217.2 928.3,219.3 929.2,220.9 930.6,221.9 932.4,222.5 933.3,224 934.6,225.6 936.8,225.5 938.3,226.7 939.7,225.3 941.5,225 943.3,224.7 945,224 946.5,224.9 946.7,226.7 945,227.2 943.4,228.1 941.8,228.9 940,229.3 938.5,229.7 937.2,230.7 936,231.7 935.7,233.3 936.3,234.7 937.3,236"/>
<path d="M937.3,236 939.3,235.5 941.4,236 943.3,235 945.4,235.7 947.5,234.9 949.6,236.1 951.7,235.7 952.1,237.7 953.6,239.3 952.7,241.6 954,243.3 955.4,244.8 956.4,246.5 957.3,248.3 958.3,250 959.9,250.7 961.8,250.5 963.2,251.9 964.9,252.7 966.7,252.7 968.7,252.7 970.7,253.2 972.7,252.9 974.7,253.2 976.7,252.7 978.9,252.8 980.9,253.6 982.9,254.4 985,255 986.9,255.1 988,257 989.9,257.2 991.9,257 993.3,258.3 995.3,258.4 997.3,258.2 999.3,257.8 1001.3,257.8 1003.3,258.3 1004.6,259.5 1006.3,260.3 1007,262.1 1008.3,263.3 1008.7,265 1009.7,266.5 1009,268.5 1010,270 1012,270.2 1013.6,271.2 1014.8,272.9 1016.7,273.3 1018.3,274.7 1019.3,276.6 1020.4,278.4 1021.7,280 1023,278.7 1024.3,277.6 1025.7,276.4 1027,275.2 1028.3,274 1030.3,274.3 1031.4,276.2 1033.3,276.7 1034.3,278.2 1035.3,279.7 1035.5,281.6 1035.6,283.5 1036.7,285 1037.8,286.8 1039.3,288.3 1040.5,290 1041.7,291.7 1043.1,290.5 1045.1,290.2 1046.5,288.9 1048.3,288.3 1049.7,287 1051.4,286.4 1053.1,285.7 1055.1,285.9 1056.7,285 1058.8,285.3 1060.8,284.7 1062.6,283.5 1064.6,283.1 1066.7,283.3 1067.2,285.4 1069.1,286.5 1070,288.3 1072,289 1073.3,290.6 1074.9,291.8 1076.7,292.7 1078.5,293.3 1080.4,293.8 1082.3,294.1 1084,295"/>
<path d="M937.3,236 935.9,237 934.2,237.6 932.7,238.4 931.7,240 930.7,241.5 928.9,242.2 927.7,243.5 926.7,245 925.1,244.3 923.2,244.8 921.5,244.5 920,243.3 918.3,242.9 916.8,241.9 915,241.7 914.2,243.6 912.8,245 911.7,246.7 913.5,247.7 914.7,249.6 916.2,251 918.3,251.7 919,253.3 918.8,255.3 920.8,256.4 920.7,258.3 919.6,260.3 918.9,262.3 919.4,264.8 918.3,266.7 918.7,268.5 919.6,270.1 919.7,272 921.4,273.2 921.7,275 923.3,275.6 924.8,276.7 926.6,276.9 928.3,277.3 929.8,276 931.3,274.7 933.7,274.9 935,273.3 936.5,274.9 937.3,277.2 939.3,278.3 940.6,279.7 940.4,281.9 941.2,283.6 941.9,285.3 943.3,286.7 944.6,288.5 944.6,290.6 945,292.7 946.6,293.3 946.9,295.2 948.3,296"/>
<path d="M948.3,296 950.1,296.5 951.9,297.1 953.2,298.6 955.3,298.6 956.7,300 958.3,301.3 960.1,302.3 962.1,303.2 963.3,305 965,303.9 966.2,302.2 968.3,301.7 969.1,303.3 970.3,304.8 970.9,306.4 971.1,308.3 971.7,310 972.1,311.9 973.9,313.1 974.6,314.8 974.9,316.8 975.2,318.7 976.7,320"/>
<path d="M948.3,296 947.8,297.9 947.1,299.8 946.7,301.7 944.7,302 943.4,303.5 941.7,304.3 939.9,305 938.3,306 936.5,306.9 934.4,306.7 932.5,306.9 930.5,307.1 928.8,308.6 926.7,308.3 924.8,309.3 922.9,310.3 920.5,309.9 918.6,310.7 916.7,311.7 914.9,313.1 912.5,312.3 910.5,313 908.6,314.1 906.7,315 904.7,315.7 903,317.2 901.2,318.2 898.9,318.3 897.2,319.8 895,320 893.6,321.4 891.9,322.4 890.4,323.6 888.4,324 886.7,325 885.4,326.7 883.6,328 882.7,330 882.3,328.1 882.1,326.2 881.5,324.4 881.4,322.5 880.7,320.7 880,318.9 880,317"/>
<path d="M978,320 976.9,321.9 976.2,323.8 976,326 977,327.5 978.3,328.8 979.7,330.1 980,332 980.8,333.6 982,335 982.7,336.7 984,338 984.3,339.8 983.7,341.6 984.6,343.4 983.8,345.2 984.4,347"/>
<path d="M502,540 500.6,540.9 499.4,542.1 498,543 498.6,544.4 499.8,545.5 500,547 500.6,548.8 501.6,550.3 502.8,551.6 504,553 504.6,554.7 504.2,556.5 504.6,558.2 504.4,560 504.9,562 504,564.1 504.1,566.1 505,568 505.9,569.9 504.7,572 505.3,574 505.6,576 505.6,578 505.6,580 504.9,582 505,584 504.9,585.7 504.3,587.3 504.4,589"/>
<path d="M504.4,589 502.6,589.4 500.8,589.9 499,590 499.1,592.1 498,594 497.8,595.8 499.4,597.2 499,599 497.5,600.5 496,602 494.7,600.9 493,601 492,603 490,604 489.9,606 490,608"/>
<path d="M504.4,589 505.9,590.3 505.9,592.5 507,594 508.2,595.8 508.4,598 509,600 509.4,601.8 509.9,603.5 511,605 511.6,603 512.3,601 513,599 513.3,596.8 514.9,595.3 516,593.6 517.5,594.6 518.3,596.3 520,597 520.9,598.7 521.6,600.5 523,602 524.1,603.3 525.4,604.4 526,606 525,607.3 525,609 526,610.7 527.8,611.5 529,613 530.5,612 532.3,612.4 534,612 534.8,613.5 535.1,615.2 536.1,616.6 537,618 538,619.5 538.9,621.1 540.2,622.4 541,624 542.6,625.3 543.6,627 544,629 544.8,631.1 546.2,632.7 548,634 548.8,635.6 548.5,637.5 549.6,639 550.7,640.7 552.4,642 553,644 553.5,645.7 554.9,646.7 556,648 557.8,648.3 559.4,647.6 561,647 562.3,645.4 564.4,645.2 566,644 568.1,643.9 570,643 572.1,643.3 574,642.1 576,642 576.4,640.3 577,638.7 577,637 576.1,635.4 576.9,633.6 576,632 575.8,630.2 574,628.9 574,627 574.5,625.4 574.5,623.6 575,622 576.5,620.9 578.4,620.8 580,620 581.6,618.7 582.1,616.7 583,615 583.1,612.8 584.3,611 585,609 586.4,607.6 587.6,606 588,604 589.3,602.5 589.4,600.3 591,599 592.2,598.3 592,597 594,597 595.9,595.9 598,596.4 599.8,596.7 601,598 601.3,599.8 600.1,601.3 600,603 601.2,604.5 600.9,606.5 602,608 603.2,609.1 603.3,610.7 604,612 605.6,611.6 607.2,610.6 609,611 610.3,609.3 612.7,609.6 614,608 615.1,609.6 617,610 618.1,611.9 618,614"/>
<path d="M618,614 616.7,615.3 615.5,616.7 615.4,618.8 614,620 612.2,620.4 611.6,622.4 610,623 607.9,623.2 606,624 604,623 603,621 601.2,622.2 600,624 598.7,625 597,625 595.7,623.3 594,622 592.2,623.2 591,625 589.7,626.1 589.1,627.7 588,629 588.1,630.9 588.6,632.6 590,634 591.2,635.4 591.3,637.3 592,639 593.5,640.1 595.3,640 597,640 598.6,639.3 600.2,638.4 602,638 603.8,639.2 606,639 605.9,640.9 604.3,642.2 604,644 602.8,645.3 603,647.2 602,648.6 601,650 601,652.1 600.3,654 600,656 601.2,657.2 601.5,659 603,660 603.9,661.8 605.9,662.5 607,664 607.1,665.6 608.9,666.4 609,668 608.5,669.7 606.8,670.5 606,672 604.9,673.8 604.2,675.8 604,678"/>
<path d="M604,678 604.7,679.3 605.1,680.8 606,682 608,682.6 610.1,682.1 612,683 614.2,683.7 615.5,685.5 617,687 618.8,688.2 620,690 622.1,690.2 624.1,689.6 626,689 628,689.5 630,689.8 632,690 632.4,691.8 633.9,693.1 634,695 633.4,696.7 633.2,698.5 632,700 629.8,700.1 628.2,702 626,702 624,702.8 623.1,705 621,705.6"/>
<path d="M604,678 605.5,676.5 607.3,675.3 609,674 611,673.2 613,672.6 615,672 616.8,672.4 618.4,673.2 620.4,673.1 622,674 623.7,674.9 625.8,674.8 627.4,676 629,677 630.3,675.5 631.6,674.1 633.7,673.5 635,672 636.6,670.7 638.7,670.4 640.6,669.6 642,668 643.3,666.7 645.3,666.5 646.8,665.4 648,664 649.2,662.8 649.4,660.9 651,660 652.4,660.9 653.5,662.2 655,663 656.8,663.7 658.6,664.6 660,666 661.8,666.4 663.5,667 665,668 666.6,667.1 667.3,665.3 668.7,664.2 670,663 671.8,662.2 673.7,661.6 675,660 676.5,659 678.1,658 680,658"/>
<path d="M670,540 669,541.9 668.2,543.8 668,546 667.1,547.6 664.9,547.9 664.6,550.1 663,551 661.5,551.4 660.6,552.9 659,553 657.7,554.1 657.4,556 656,557 655,558.4 654.2,559.8 653.4,561.3 653,563 652.1,564.7 650.5,566 650,568 648.3,567.2 646.7,568.6 645,568 643.5,566.5 642,565 641,563.7 639.5,563.3 638,563 636.4,563.4 634.7,564 633,564 632.1,562.4 629.9,562.5 629,561 627.5,560.6 626,561 624.6,562 624.4,564 623,565 623.9,566.6 624.6,568.2 625,570 623.6,570.9 622.5,572.2 621,573 619.5,574 618.5,575.3 618,577 619.2,578.2 619.5,580 621,581 622.8,581.8 624.1,583.2 625,585 625.8,586.5 626.6,588 628,589 629,590.4 630.2,591.6 632,592 633.4,593.5 635.5,593.7 637,595 637.2,596.2 638,597"/>
<path d="M618,614 619.9,613.3 622,613.6 624,613 626,613.6 627.9,614.2 630,614 631.7,613.3 633.4,613.1 635.2,612.7 637,613 636.1,611.5 636.4,609.6 635.6,608 633.8,607.9 632.6,606.6 631,606 629.4,605.4 628.1,604.3 627,603 625.9,601.7 625.4,600 624,599 625.6,597.6 627,596 628.1,594.5 630,594.4 631.9,595.3 633.7,596.3 635,598 636.7,598.1 638,597"/>
<path d="M638,597 639.8,597.5 641,599 642.3,597.9 643.2,596.5 644,595 646,594.6 647.1,592.7 649,592 650.5,591 652.5,591 654,590 654.9,588.8 655.1,587.2 656,586 658.1,585.8 660,585 661.4,585.9 662.4,587.4 664,588 665.5,587.1 667.2,586.9 669,587 670,589 672,590 672.6,591.6 673,593.3 673,595 674,596.7 675.5,597.8 677,599 678.9,600.1 680,602"/>
<path d="M695,533.6 696.8,534.4 698,536 699.2,537.2 700.5,538.2 702,539 703.5,540.5 705,542 705.7,543.6 704.9,545.4 705.6,547 704.3,548.8 704,551 702,551.5 700,552 698.7,552.7 697.5,553.7 696,554 695.1,555.6 693.5,556.2 692,557 690.4,556.5 688.5,557 687,556 685.2,555.9 683.8,557.1 682,557 680.4,557.8 678.8,558.4 677,558 675.2,557.7 674,559 674,561.1 674.1,563.1 675,565 674.6,566.7 675.2,568.6 674.5,570.3 674,572 675.3,572.7 676.9,572.8 678,574 678.4,575.9 680,577 681.6,578.4 683,580 684.4,581 684.6,583 686,584 687.8,585.1 688.6,587"/>
<path d="M688.6,587 689.4,585.4 690.1,583.8 690,582 690.6,580.1 692.7,579.1 693,577 694.4,575.6 696.5,575.2 698,574 700,573.2 702,574.1 704,573.6 706.1,573.5 707.9,574.9 710,575 711,573.5 711.7,571.8 712,570 713.4,568.7 715,567.6 716.7,568.3 718.5,568.6 720.3,567.3 722,568 724,568.7 725.8,570 728,570 729.6,570.7 731.4,570.6 733,571 734.8,571.7 736,573.6 738,574 740.1,574.8 741.1,577 743,578 744.8,578.2 746.2,576.8 748,577 749.5,575.8 751.2,574.7 753,574 754.5,575.5 756,577 758.1,577.3 760,578 761.9,576.9 763,575 764.9,574.6 766,573 767.2,574.2 767.5,576 769,577 769.3,578.8 769,580.5 768,582 768.4,583.5 768.9,584.9 770,586 771.2,587.4 773,588"/>
<path d="M773,588 774.5,586.5 776,585 777.9,584.1 779.8,583.1 782,583 784.2,582.9 785.8,580.9 788,581 789.5,580.3 791.3,580.1 792.2,578.2 794,578 795.5,577.1 797.1,576.2 798.1,574.4 800,574 802,573.5 804.1,573.7 806,573 808,572.7 810,573 812,572.4"/>
<path d="M812,572.4 813.4,571 815.5,571.1 817,570 818.4,569.6 820,569.3 821,568 822.7,568 824.4,568.3 826,569 824.7,570.5 823.8,572.2 823,574 822.2,575.2 821,576 823.1,575.8 825,575 826.2,573.7 828,573.1 829,571.6 830.9,570.7 833,571 834.6,571.6 835.3,573.5 837,574 838.8,574.5 840.5,575 842,576 843.1,577.1 844.6,577.5 846,578 847.8,578.5 849,580"/>
<path d="M849,580 850.3,579 851.8,578.2 853,577 854.8,576.2 856,574.5 858,574 858.8,572.1 860.5,571.2 862,570 861.3,568.4 861.8,566.6 861,565 862.5,564.2 863.8,563.1 865,562 866.6,561.1 868,560 868.6,558.4 868.1,556.6 869,555 870.4,553.4 872,552 872.6,550.3 874.5,549.7 875,548 874.8,546.3 876,545"/>
<path d="M849,580 848.6,581.5 848.2,582.9 847,584 847.1,585.7 848.3,587.2 848,589 849.3,590.7 850.8,592.2 852,594 853.3,595.8 853.3,598 854,600 855.2,601.8 855,604"/>
<path d="M855,604 853,604.4 851.5,605.7 850,607 848.2,607.3 846.4,607.7 845,609 843.5,610 841.6,610.1 840,611 837.8,610.9 836,612 834.1,613.1 833,615 831.6,615.6 830.6,616.8 829,617 829.5,618.6 828.9,620.5 830,622 829.5,623.7 828.2,624.8 827,626 825.2,626.4 824.4,628.1 823,629 822.4,630.6 821.2,631.8 820,633 819.7,634.8 820.9,636.3 821,638 820.1,639.7 818.8,641.2 818,643 817.2,644.6 817.3,646.3 817,648 816.6,650 814.9,651.3 814,653 813.6,655 812.6,656.7 811,658 811.2,659.8 810,661.3 810,663 809.7,665.1 808.4,666.9 808,669 808.2,670.8 807.9,672.5 807,674"/>
<path d="M807,674 808.7,674 810.3,673.6 812,673.6 813.6,674.2 815.5,674.1 817,675 818,676.4 819.4,677.4 821,678 822.2,678.9 823.9,678.8 825,680 825.6,681.7 826.6,683.2 827,685 827.7,686.9 827,689.1 828,691 827.6,692.8 829.4,694.2 829,696 829.5,697.7 830.9,698.8 832,700"/>
<path d="M773,663 774.7,663.4 776.2,664.1 778,664 779.8,664.4 781.3,663 783,663 784.1,664 785.5,664.6 787,665 786.7,666.5 787,668 785.9,669.2 784.7,670 783,670 782.1,671.4 780.7,672.4 780,674 779.7,675.5 778.7,676.7 778,678 779.2,679.3 780,681 781.8,681.2 783.5,681 785,680 787,679.5 789.1,680.1 791,679 792.4,677.7 794.5,678.1 796,677 798.1,677.1 800,676 801.8,676.5 803,678 804.3,679.3 806,680 806.4,678 807.4,676.1 807,674"/>
<path d="M773,588 774.4,589 774.8,590.8 776,592 776.9,593.6 777.8,595.2 778,597 777.7,598.7 777.3,600.3 777,602 776,603.4 775.1,604.7 774,606 772.9,607.6 771.6,608.9 770,610 769,611.6 768.9,613.4 768,615 767.4,616.6 766.9,618.2 767,620 767.5,621.7 768.4,623.1 770,624 770.8,625.9 771.1,627.9 771,630 771.3,632.1 772.2,634 773,636 774.4,637 774.8,638.8 776,640 774.8,641.8 774.2,643.8 774,646 775.6,646.1 777,647 776.6,648.8 776.4,650.6 775,652 773.6,653.8 774.1,656.1 773,658 772.6,659.7 772.9,661.3 773,663"/>
<path d="M773,663 771.4,663.4 769.7,663.4 768,663.6 766.3,663.2 764.6,662.6 763,662 761.5,661.6 760,661 758.4,661.8 757,663 755.7,664.3 754,665 754.3,667.1 755,669 756.3,670.8 756,673 754.4,672.8 753,672 751.8,670.6 751,669 749.2,669.2 747.7,668 746,668 744.4,668.4 742.6,667.8 741,668.4 739.8,670 740,672 739.3,673.7 738,675 737,676"/>
<path d="M737,676 735.3,675.3 733.7,675.3 732,676 730.3,675.9 729,677 727.9,675.2 728,673 727.6,671 727,669 725.7,669.8 724.3,670.3 723,671 721.2,670.5 720,669 720.2,667.4 721.3,666.3 722,665 722.3,663.5 723.3,662.3 724,661 724,659.3 724.7,658 726,657 727.3,656.1 727.9,654.6 729,653.6 727.5,652.3 726,651 726.4,649 726,647 724.3,645.7 723,644 720.8,644.2 719,643 717.2,642.9 715.6,643.5 714,644 712.5,644.8 711.2,645.8 710,647 707.8,646.8 706,648 703.9,647.7 702,647 700.2,648.2 699,650 698.1,651.1 697,652 695.4,650.9 693.6,650"/>
<path d="M693.6,650 692.9,648.1 692.5,646 692,644 691.2,642.4 690.6,640.7 690,639 690.9,637.6 692.2,636.5 693,635 692.6,633.3 693.2,631.7 693,630 691,630.1 689.5,629 688,628 686,628.6 684.1,629.2 682,629 683.3,627.9 683.8,626.2 685,625 686.4,623.9 687.6,622.8 688,621 689,619.1 691.2,618.1 692,616 692.2,613.9 691.6,612 691,610 689.8,608.2 690,606 689.6,604 689.4,602.2 688.5,600.6 688,598.8 688,597 688,595.3 688.3,593.6 689,592 689.3,590.3 688.5,588.7 688.6,587"/>
<path d="M680,602 681.8,602.3 683.6,602.7 685,604 686.5,603.8 688.1,603.4 689.6,604"/>
<path d="M680,658 681.6,657.2 683,656 684.8,655.7 686.5,655.1 688,654 689.8,653.6 691,652.3 692.6,651.5 693.6,650"/>
<path d="M737,676 736.9,678.2 738,680 738,681.7 738.2,683.4 739,685 737.4,686.3 737.3,688.5 736,690 734.8,691.2 733.5,692.3 733,694 731.2,694.9 730.3,696.6 729,698 728.8,700.2 727.8,702 727,704 726.6,706.1 728.3,707.9 728,710 727.6,711.8 726,713.1 726,715 724.7,716.1 723.6,717.4 722,718 720.4,718.9 718.4,718.7 717,720 716.6,721.5 715.8,722.7 715,724 714.3,726 714,728 712.1,728.2 710.5,729.3 708.8,730 709.8,731.8 709.4,733.8 707.5,734 705.8,735.2 704,735.5 702,735.2 701.9,736.9 700.6,738.2 700.4,739.8 699.2,741.2 697.6,742 698.8,743.2 700.4,743.8"/>
<path d="M640,377 638.3,378 636.4,378.8 634.6,379.8 633,381 632.5,383 631.7,384.7 630,386 629.7,387.8 629.3,389.6 628,391.1 628,393 628,395.1 628.5,397 629,399 628.2,401 627.4,402.9 627,405 626.5,406.7 625.1,407.7 624,409 622.5,410.2 620.4,409.7 619,411 617.2,412.3 614.8,411.8 613,413 611.2,414.3 608.9,414 607,415 605.2,415.8 603.2,416.1 601.2,416 599.4,417"/>
<path d="M640,377 641.7,377.3 643.3,377.9 645,378 645.8,379.8 647.5,381 648,383 647.3,385.2 645.5,386.5 644,388 643.7,389.8 642.2,391.1 642,393 641.1,394.6 640.5,396.3 640,398 641.3,399.1 642.5,400.2 644,401 646.1,400.9 648,401.8 650,402.4 651.9,402.6 653.1,404.3 655,404.4 656.8,405.1 657.3,407.2 659,408 660.3,407.9 661,409"/>
<path d="M599.4,417 601.4,416.7 603.2,417.1 605,418 606.4,419.6 608,421 609.7,422 611.1,423.3 612,425 613.4,426.3 614.8,427.6 616,429 616.8,430.9 616.8,433 617,435 617.5,436.9 619.5,438 620,440 621.1,441.1 622,442.3 622,444 620.8,445.8 619,447 620.1,448.8 620,451 621.3,452.7 623.5,452.7 625,454 625.9,455.6 628,455.5 629,457 630.5,458 632.3,457.7 634,458 635.3,459.7 637,461 638.1,460.7 639,460 638.6,458.3 638.6,456.7 639,455 639.8,453.6 640,452 642,451.4 644,452 645,450.2 647,449.6 647.4,447.7 647.2,445.9 647,444 645.4,443.3 644.4,442 643,441 642,439.7 640.2,440 639,439 637.9,437.1 638,435 639.4,433.4 641,432 641.2,430.4 642.1,429.2 643,428 641.8,426.2 642,424 643.8,424.4 645.7,424.4 647.5,423.6 649.3,423.5 651.2,423.3 653,423.6"/>
<path d="M660,457 659.6,458.8 661.2,460.2 661,462 662.6,463.1 663,465 660.9,465.3 659.9,467.4 658,468 656.1,468.9 654,468.4 652,469 650.8,467.6 650,466 648.5,465.1 646.6,465.8 645,465 643.2,464.5 641.7,465.7 640,465.6 639.5,467 638.7,468.4 639,470 638.1,471.2 637.1,472.4 637,474 637.4,475.5 639,476.3 639,478 640.2,479.5 642,480 640.9,481.2 640.2,482.8 639,484 639.2,485.8 637.8,487.2 638,489 638.2,490.7 638,492.5 639,494 636.9,494.1 635,495 633.3,494.3 631.7,494.9 630,495 628.4,496.1 627.2,497.5 626,499 627,500.2 626.7,502 628,503 628.6,504.6 628.2,506.4 629,508 627.8,508.7 628,510"/>
<path d="M640,511 638,511.6 636.1,512 634,511.6 632,511.2 629.9,511.1 628,510"/>
<path d="M628,510 629.7,510.6 631.3,511.4 633,512 634.7,512.9 636.5,512.4 638.2,512.8 640,513 642,513.5 644.1,513.2 646,514 647.5,515.5 649,517 650.6,517.5 652.2,518.1 654,518 655.8,518.2 657.1,519.2 658.8,519.7 660,521 661.3,522.2 662.9,522.8 664.8,522.6 666,524 668.1,524.4 670.1,524.1 672,523 673.6,524.4"/>
<path d="M673.6,524.4 675,525.5 676.6,526.2 678.4,526.3 680,527 681.7,527.4 683.4,527.8 684.4,529.5 686,530 687.7,531 689.1,532.4 691,533 693,533.1 695,533.6"/>
<path d="M673.6,524.4 672.9,525.9 672.7,527.4 673,529 674,530.3 675.3,531.4 676,533 675.3,535.2 673.1,536.2 672,538 671,539 670,540"/>
<path d="M695,533.6 694.8,531.7 695,529.9 695,528 694.6,526 694.4,524 694.1,522 694,520 694.7,518.1 695,516 696.5,515 698.4,514.9 700,514 701.8,513.6 703.4,514.4 705,515 705.2,513.4 706,512 704.3,511.5 703.6,509.7 702,509 700.3,507.7 699,506 697.5,505 695.9,504.2 694,504.4 693,503 694.8,502.6 696.6,503.6 698.4,503.5 700.2,503.3 702,503 704.1,502.4 706,503.2 708,503.7 710,503.6 712,503.4 714,503.4 716,504 717.9,503 720,502.6"/>
<path d="M876,545 878,545.5 880,546 881.5,547.2 883.2,548.2 885,549 887,549.7 888.8,550.6 890,552.4 891.2,551.4 892.5,550.5 894,550 895.6,549.8 896.8,548.9 898,548 899.1,546.3 900,544.4 900.8,543 901.6,541.6 902,540 903.2,538.7 905,538.4 906.6,538 908,537.6"/>
<path d="M897.6,547.6 898,549.1 898.8,550.4 900,551.4 901.7,552.4 903.4,553.4 904.7,554.1 905.4,555.4 906.6,555.4"/>
<path d="M854.4,604 856,603.7 857.4,604.6 859,604.4 859.2,606.1 859.5,607.9 861,609.2 861,611 861.9,612.6 862.5,614.3 862.9,616.1 863,618 863.7,619.7 865,621 866.7,620.4 868.3,621.1 870,621 871.2,619.2 873,618 874.7,618.7 876,620 877.6,621.4 879,623 880.7,623.3 882.4,622.8 884,622.4 885.8,622.6 886.9,623.8 888,625 889.2,625.6 889.6,627"/>
<path d="M799,445 799.7,446.9 800,449 802,448.5 804,448 805.7,447 807.5,446.1 809.2,445.2 811,444.4 810.3,445.6 810,447 808.7,448.1 806.9,448.3 805.9,450 804,450 802.8,450.9 801.5,451.6 800,452 799,453.5 797.1,453.7 796,455 794.9,456.9 793,458 792,460 790.4,461.3 790.3,463.5 789,465 790.3,466.5 792.1,467.4 794,468 795.1,469.5 797.2,470.1 798,472 799.4,472.9 800.5,474.2 802,475 804,474.9 806,475 808,475.6 810.1,475.3 812.3,475.2 814.4,475.6"/>
<path d="M814.4,475.6 813.7,474.4 814,473 815.6,473 817,472.4 817.2,470.6 818,469 819.9,468.2 822,468.3 824,468 825.3,469 826.7,470 828,471 828.4,472.7 829,474.3 829,476 830.7,475.9 832.3,477 834,477 835.9,476.1 838.1,475.9 840,475 841.8,475.1 843.4,474.9 845,474 845.9,475.6 847.9,475.7 849,477 850.2,477.1 851,478 852.6,476.9 853.8,475.4 855,474 856.3,472.8 858,472.4 859.2,471.5 860.4,470.5 861,469 862.6,468.6 863.4,466.9 865,466.4 866.5,466.1 868,466.4"/>
<path d="M814.4,475.6 814.9,477.3 816.5,478.3 817,480 818.7,479.5 820.3,480.2 822,480 822,481.7 820.3,482.5 820,484 819.9,485.7 821.4,487.2 821,489 819.3,489.2 817.7,489.9 816,490.4 814.6,490.9 813,491.1 812,492.4 811.2,490.4 809.2,489.6 808,488 806.9,486.7 805.6,486 804,485.6 802.3,486.9 802,489 803.1,490.5 802,492.5 803,494 801.7,495.4 800,496 798.9,497.9 797,499 797.2,500.7 797.1,502.4 798,504 796,503.8 794.6,505.2 792.6,505 791,506 792.2,507.8 792,510 792.9,511.6 794.9,511.7 796,513 797.5,514.5 799,516 800.9,516.1 802.6,516.7 804,518 805.7,517.2 807.3,518.2 809,518 809.1,520 808.9,522.1 809.6,524 808.8,525.9 809.3,528 809,530 807.3,530.6 806.6,532.4 805,533 803.1,533.1 801.8,534.7 800,535 798.9,536.3 799.2,538 798.6,539.4"/>
<path d="M822,480 824,479.6 826,479 827,480.2 828,481.3 828,483 829.6,483.9 831.5,483.9 833,485 834.7,485 836.4,485.5 838,486 838.8,487.5 839.4,489.1 841,490 842.5,490.9 844,492 845.5,493.1 847.2,493.4 849,493 849.1,494.7 849,496.5 848,498 847.4,499.7 845.6,500.3 845,502 846.2,503.1 847.3,504.5 849,505 848.9,507.2 850.1,509.1 851,511 852.3,511.7 854,511.7 855,513 856.3,511.8 858,512 859.4,510.8 860,509 861.7,509.3 863.3,509.4 865,509 865.8,510.4 866.5,511.8 867.6,513 866.9,514.5 865.9,515.9 866,517.6 864.3,518 862.7,517.2 861,517 859.6,517.6 858,517.6 857.2,518.9 856.7,520.4 857,522 855.8,523.8 854,525 854.2,527.2 853,529 854.3,530.1 855.2,531.5 856,533 857.1,534.1 858.7,534.2 860,535 859.9,536.7 861,538.3 861,540 862.3,540.8 863.9,541.2 865,542.4 866.7,542.9 868.5,543 870.2,543.9 872,543.6 873.8,545 876,545"/>
<path d="M798.6,539.4 799.7,540.7 800.9,541.7 802,543 803.6,544.1 805.6,544.6 807,546 808.1,547.1 809.4,547.8 811,548 810.1,549.2 810.2,550.9 809,552 807.5,553.5 806,555 806.9,556.6 807.7,558.2 808,560 808.4,562 809.3,563.7 811,565 812,566.8 810.9,568.8 811.6,570.6 812,572.4"/>
<path d="M798.6,539.4 796.9,538.9 795.7,537.5 794,537 792.5,535.7 791,534.5 789,534 787.4,534.8 785.8,535.1 784,535 782.2,534.8 780.8,533.9 779.7,532.4 778,532 776,531.5 774.7,530 773,529 771.6,527.6 770.7,525.8 770,524 769.7,522 769.6,520 767.8,519.3 765.9,519.6 764,519.6 762,520.5 760,520.2 758,520.5 756,520 754,519.4 752,519.5 750,519.5 748,520 746.1,519.2 744,519.1 742.1,518.5 740,519"/>
<path d="M709.1,748.4 711,748.2 712.9,748.2 713.2,749.8 713.7,751.5 712.7,753.2 713.4,754.8 712.1,755.1 711,753.7 711.4,751.9 711,750.3 709.1,750.9 708,752.5 706.4,753.4 706.7,751.4 708.3,750.1 709.1,748.4"/>
<path d="M821.6,343.6 822.5,345.2 823.6,346.7 825,348 826.3,349.6 828.6,349.6 830,351 831.5,350 833.4,350.8 835,350 836.2,350.8 837,352 835.8,353.2 834,353.6 833,355 833.7,356.6 832.7,358.4 833.6,360 832.3,361.2 831,362.4 829.5,363.6 827.5,362.8 826,364 825.4,365.5 825,367 826.7,366.9 828,368 827,369.9 827,372 825,371.8 823,372.4 821.4,372.3 820,373 818.6,373.4 817,373.6 816,375 813.8,375.3 812,374 810,373.2 808,373.8 806,374 804.1,373 802.8,371.2 801,370 800.4,368.4 800.6,366.6 800,365 801.7,363.7 803,362 804.7,361.4 806.1,360.1 808,360 807.3,358 807,356 806.2,354.6 806,353 807.5,352.7 809,352.3 810,351 812.1,350.8 814,349.7 816,349 816.6,347.4 818.3,346.5 819,345 820.1,344Z"/>
</g>
<g fill="none" stroke="#585858" stroke-linecap="butt" shape-rendering="crispEdges">
<path d="M932,679.4 926.6,702.4" stroke-width="2"/>
<path d="M689,849.6 692.4,853.6 695,858 697.4,862.4 699,867 699.6,872.4" stroke-width="1"/>
<path d="M865,853.4 865,875.6" stroke-width="2"/>
<path d="M708,931 707.6,940" stroke-width="2"/>
<path d="M707.7,931.7 707.3,940 705.7,946.7 703.3,952.3" stroke-width="2"/>
<path d="M863.3,936 860.7,946.7 858,953.3 855,959.3" stroke-width="1"/>
<path d="M814,1018.3 801.7,1035" stroke-width="1"/>
<path d="M670,1037.3 669.3,1048.3 671.7,1059.3" stroke-width="2"/>
<path d="M734.3,1111.7 753.3,1105" stroke-width="1"/>
<path d="M693.3,1030.7 697.3,1028.3 701,1028" stroke-width="2"/>
<path d="M747.7,1059.3 749.3,1066.7 750.7,1071.7" stroke-width="2"/>
<path d="M882.6,792.4 877,804 872.4,814" stroke-width="1"/>
<path d="M916.4,738.4 902.4,756.4" stroke-width="1"/>
</g>
<path d="M914.7,568 917.3,565.3 922.7,566 926.7,569.3 925.3,572.7 921.3,576 918,573.3 914.7,570Z" fill="#707070" shape-rendering="crispEdges"/>
<path d="M922,559.3 926,559.3 926,560.5 922,560.5Z" fill="#707070" shape-rendering="crispEdges"/>
<path d="M917.3,562.7 926,563.3 926,564.3 917.3,563.7Z" fill="#707070" shape-rendering="crispEdges"/>
<path d="M925.3,553.3 928.7,555.3 928.3,556.1 925,554Z" fill="#707070" shape-rendering="crispEdges"/>
<path d="M931.2,554 933,554 933,554.8 931.2,554.8Z" fill="#707070" shape-rendering="crispEdges"/>
<path d="M931,566.1 932,566.1 932,567.1 931,567.1Z" fill="#707070" shape-rendering="crispEdges"/>
<path d="M874.2,636.6 878.3,635.7 880.6,634.6 884.1,634.8 884.7,638.3 882.4,639.5 879.5,638.3 876,638.5 874.2,638.1Z" fill="#707070" shape-rendering="crispEdges"/>
<path d="M873.1,657.6 877.1,657 879.7,658.4 879.5,661 877.1,662.2 876,664.2 873.9,663.4 874.8,661 872.7,660.2Z" fill="#707070" shape-rendering="crispEdges"/>
<path d="M862.6,665.7 864.9,665.1 866.6,666.9 866.1,669.8 863.7,671 862.9,668.6Z" fill="#707070" shape-rendering="crispEdges"/>
<path d="M846.8,680.5 850.3,679.7 854.8,681.2 854.5,683.2 850.6,682.6 848,683.1Z" fill="#707070" shape-rendering="crispEdges"/>
<path d="M899.9,609.2 901.6,607.4 904,609.7 903,613.2 901,611.7Z" fill="#707070" shape-rendering="crispEdges"/>
<path d="M872.7,699 874.8,698 876.7,699.2 876,700.8 873.6,700.8Z" fill="#707070" shape-rendering="crispEdges"/>
<path d="M886.7,629.6 888.8,628.7 889,630.7 887.4,631.5Z" fill="#707070" shape-rendering="crispEdges"/>
<path d="M827,701.9 830.5,701.3 830.7,703 827.2,703.4Z" fill="#707070" shape-rendering="crispEdges"/>
<path d="M915,599.2 916.8,598.7 916.6,601.2 915.2,601.7Z" fill="#707070" shape-rendering="crispEdges"/>
<path d="M867.2,661.6 871.3,660.5 871.9,662.6 868.4,663.5Z" fill="#707070" shape-rendering="crispEdges"/>
<path d="M756,783h1v1h-1zM771,789h2v1h-2zM685,752h2v1h-2zM724,774h1v1h-1zM728,832h2v1h-2zM742,836h2v1h-2zM731,845h1v1h-1zM732,843h2v1h-2zM737,848h2v1h-2zM748,844h1v1h-1zM749,848h2v1h-2zM733,854h2v1h-2zM748,854h1v1h-1zM741,861h2v1h-2zM776,854h2v1h-2zM780,854h1v1h-1zM782,854h2v1h-2zM787,850h2v1h-2zM790,854h1v1h-1zM771,865h2v1h-2zM782,863h2v1h-2zM823,848h1v1h-1zM798,897h2v1h-2zM771,732h2v1h-2zM778,732h1v1h-1zM779,722h2v1h-2zM773,727h2v1h-2zM783,720h1v1h-1zM748,739h2v1h-2zM751,740h2v1h-2zM786,947h1v1h-1zM822,947h2v1h-2zM787,955h2v1h-2zM783,960h1v1h-1zM776,958h2v1h-2zM832,957h2v1h-2zM838,962h1v1h-1zM841,959h2v1h-2zM832,963h2v1h-2zM767,972h1v1h-1zM777,972h2v1h-2zM786,970h2v1h-2zM798,973h1v1h-1zM806,968h2v1h-2zM811,975h2v1h-2zM820,970h1v1h-1zM822,967h2v1h-2zM832,973h2v1h-2zM787,978h1v1h-1zM801,980h2v1h-2zM807,983h2v1h-2zM818,982h1v1h-1zM776,987h2v1h-2zM747,987h2v1h-2zM800,990h1v1h-1zM807,992h2v1h-2zM821,996h2v1h-2zM815,999h1v1h-1zM767,998h2v1h-2zM772,1002h2v1h-2zM783,1000h1v1h-1zM742,1000h2v1h-2zM751,1000h2v1h-2zM730,1007h1v1h-1zM732,1005h2v1h-2zM796,1010h2v1h-2zM802,1007h1v1h-1zM754,1010h2v1h-2zM761,1013h2v1h-2zM737,1020h1v1h-1zM731,1023h2v1h-2zM729,1027h2v1h-2zM755,1020h1v1h-1zM701,1021h2v1h-2zM710,1016h2v1h-2zM713,1019h1v1h-1zM786,1018h2v1h-2zM789,1027h2v1h-2zM773,1030h1v1h-1zM787,1033h2v1h-2zM766,1039h2v1h-2zM760,1052h1v1h-1zM744,1065h2v1h-2zM749,1078h2v1h-2zM754,1078h1v1h-1zM741,1102h2v1h-2zM871,705h2v1h-2zM871,708h1v1h-1zM919,659h2v1h-2zM947,652h2v1h-2zM964,652h1v1h-1zM909,731h2v1h-2zM888,725h2v1h-2zM916,600h1v1h-1zM901,620h2v1h-2zM902,612h2v1h-2zM901,610h1v1h-1zM923,560h2v1h-2zM914,593h2v1h-2zM912,586h1v1h-1zM924,380h2v1h-2zM928,380h2v1h-2zM931,384h1v1h-1zM938,384h2v1h-2zM935,374h2v1h-2zM898,398h1v1h-1zM895,402h2v1h-2zM894,406h2v1h-2zM886,445h1v1h-1zM883,451h2v1h-2z" fill="#585858" shape-rendering="crispEdges"/>
<path d="M809,751h2v2h-2zM824,758h3v2h-3zM731,849h2v2h-2zM745,848h3v2h-3zM841,871h2v2h-2zM777,724h3v2h-3zM773,723h2v2h-2zM709,751h3v2h-3zM873,698h2v2h-2zM943,655h3v2h-3zM908,718h2v2h-2zM879,636h3v2h-3zM876,637h2v2h-2zM874,659h3v2h-3zM876,658h2v2h-2zM864,667h3v2h-3zM866,665h2v2h-2zM848,681h3v2h-3zM850,681h2v2h-2z" fill="#585858" shape-rendering="crispEdges"/>
</svg>
<div class="frame"></div>
<div class="title"><span class="cjk">父系：</span><span class="lat"> N-MF121788 (</span><span class="cjk">含下游</span><span class="lat">)</span></div>
<div class="legtitle cjk">相对占比</div>
<div class="sw" style="top:805.00px;background:#ffffe5"></div><div class="lab" style="top:805.00px">0.010% - 0.010%</div>
<div class="sw" style="top:838.57px;background:#fff8c1"></div><div class="lab" style="top:838.57px">0.010% - 0.074%</div>
<div class="sw" style="top:872.14px;background:#fee79b"></div><div class="lab" style="top:872.14px">0.074% - 0.139%</div>
<div class="sw" style="top:905.71px;background:#fece65"></div><div class="lab" style="top:905.71px">0.139% - 0.203%</div>
<div class="sw" style="top:939.28px;background:#feac3a"></div><div class="lab" style="top:939.28px">0.203% - 0.332%</div>
<div class="sw" style="top:972.85px;background:#f68720"></div><div class="lab" style="top:972.85px">0.332% - 0.396%</div>
<div class="sw" style="top:1006.42px;background:#e1640e"></div><div class="lab" style="top:1006.42px">0.396% - 0.461%</div>
<div class="sw" style="top:1039.99px;background:#c14702"></div><div class="lab" style="top:1039.99px">0.461% - 0.525%</div>
<div class="sw" style="top:1073.56px;background:#933204"></div><div class="lab" style="top:1073.56px">0.525% - 0.589%</div>
<div class="sw" style="top:1107.13px;background:#662506"></div><div class="lab" style="top:1107.13px">0.589% - 0.654%</div>
<div class="credit"><span class="cjk">作者</span>:O1a<span class="cjk">溯源群</span></div>
</body></html>
